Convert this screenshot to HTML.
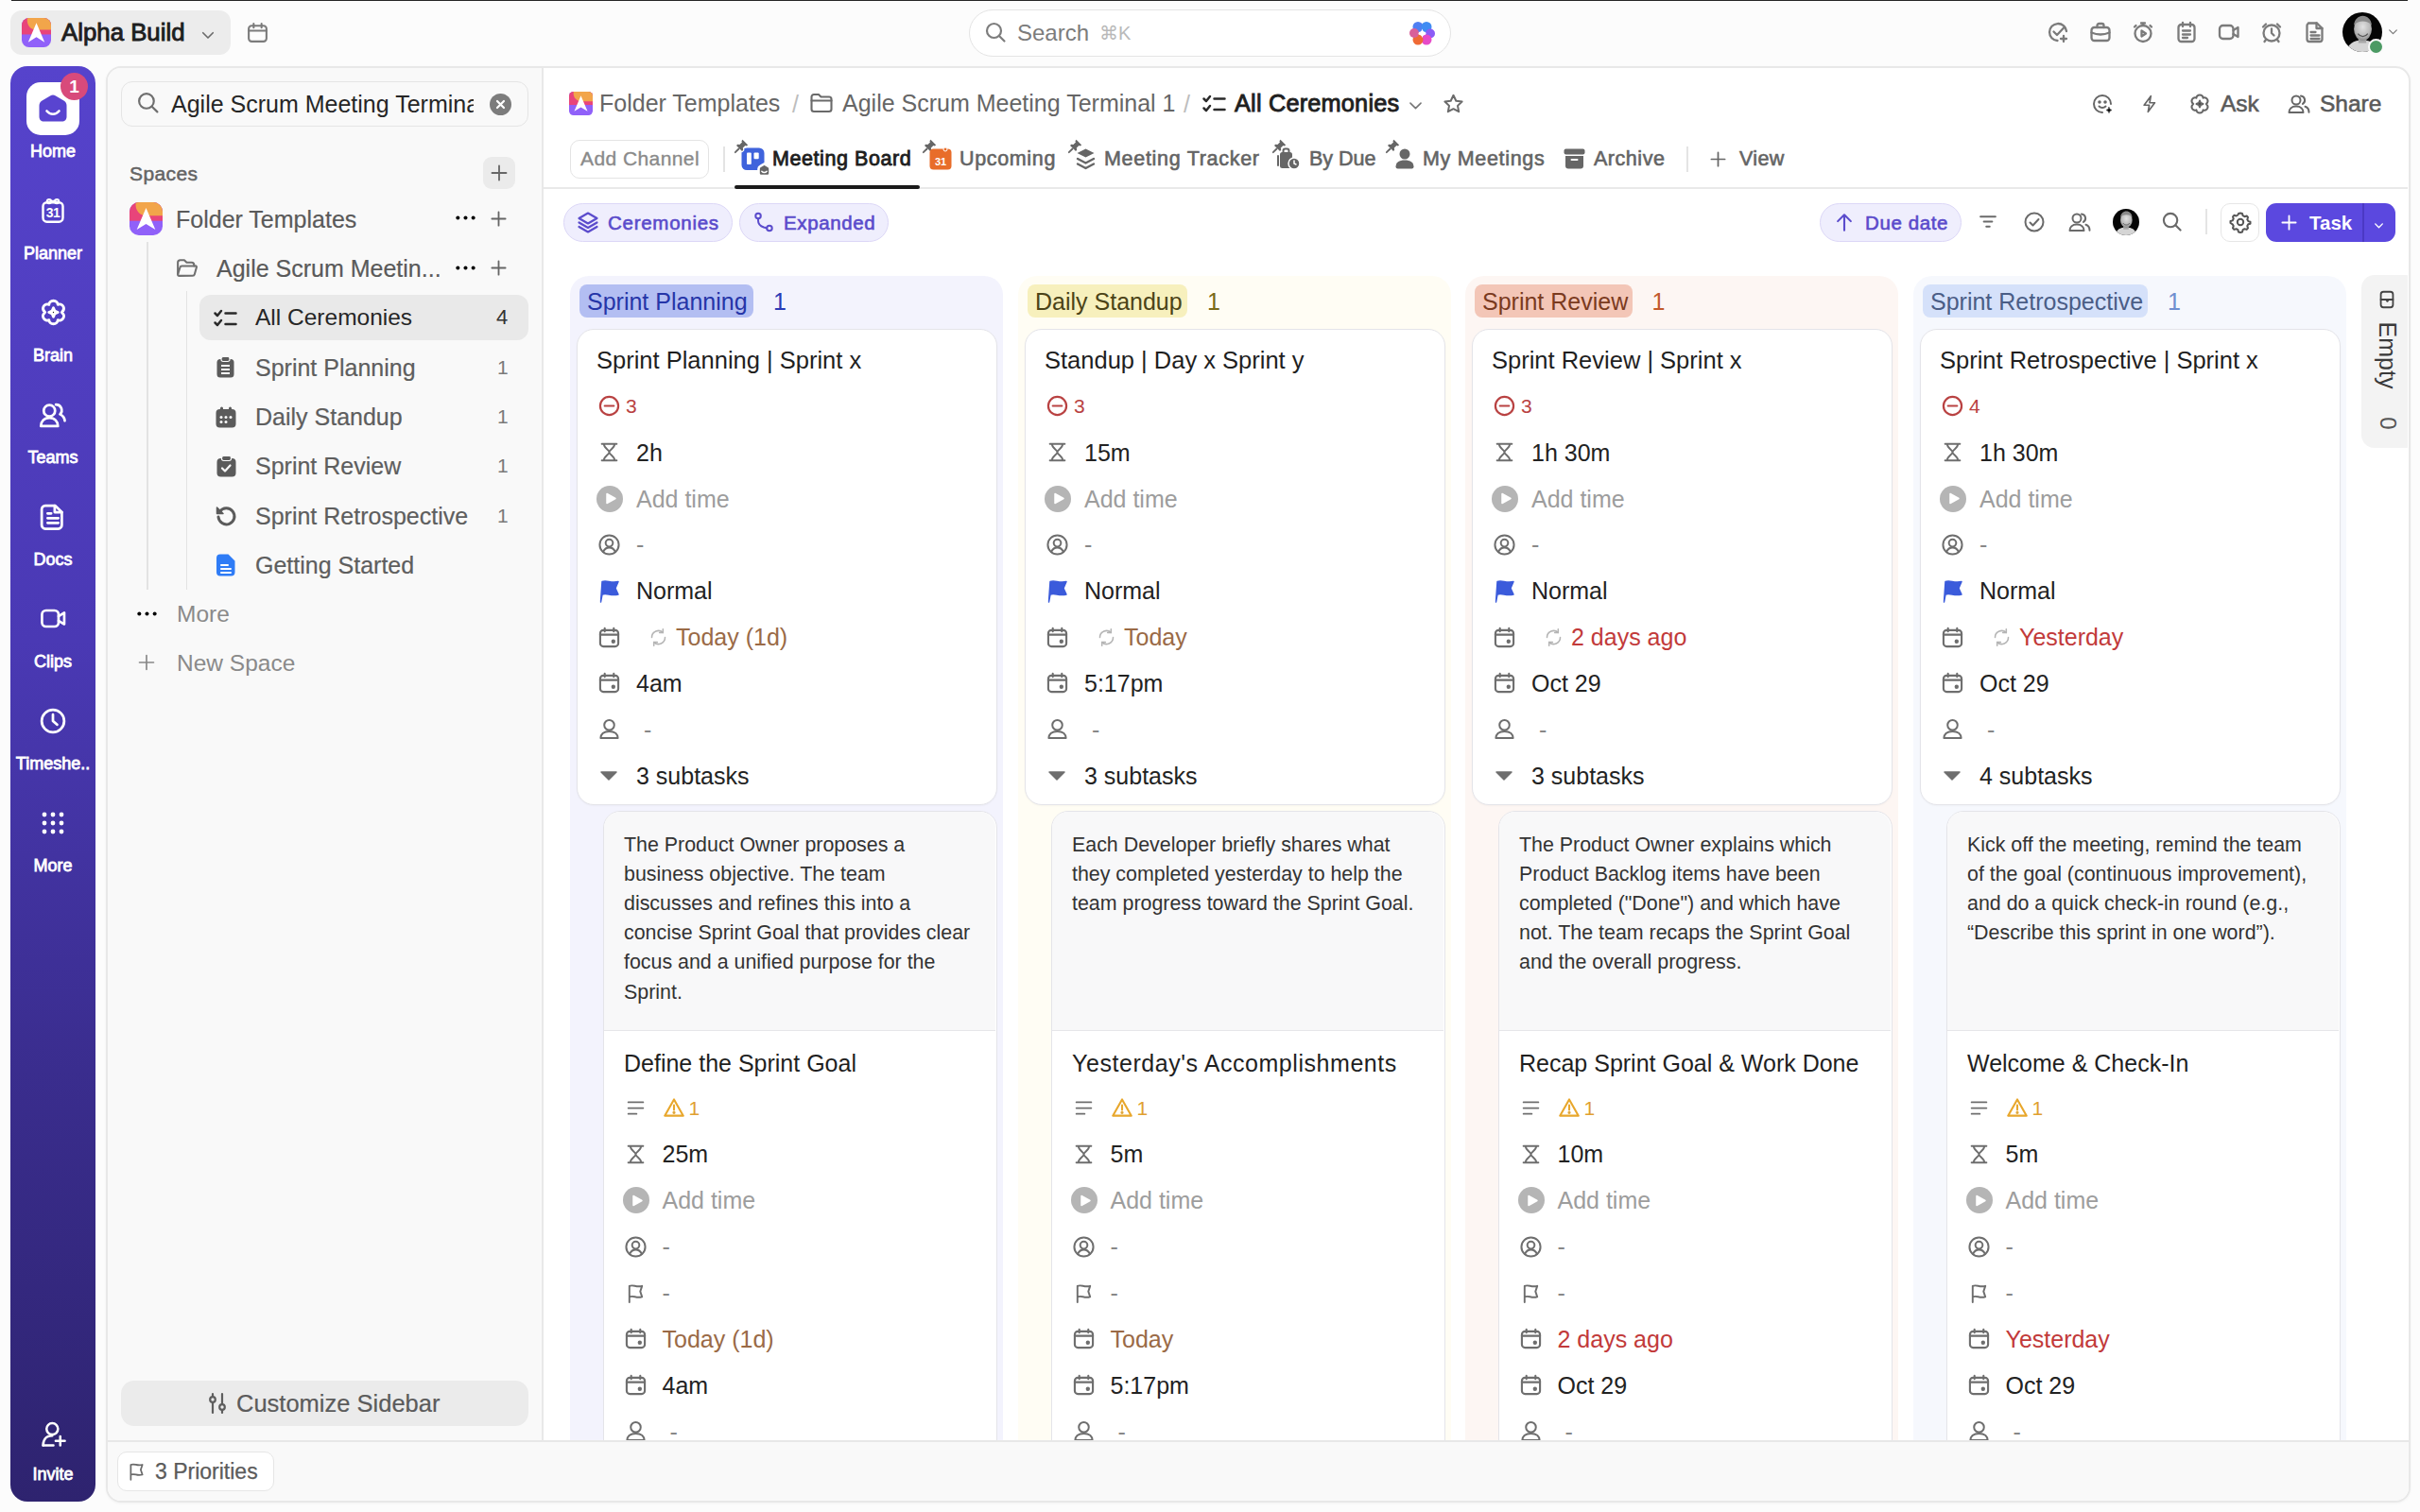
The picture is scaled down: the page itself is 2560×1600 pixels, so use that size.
<!DOCTYPE html><html><head><meta charset="utf-8"><style>
*{margin:0;padding:0;box-sizing:border-box}
html,body{width:2560px;height:1600px;overflow:hidden;background:#fcfcfc;font-family:"Liberation Sans",sans-serif}
.t{position:absolute;white-space:nowrap}
svg{overflow:visible}
.med{-webkit-text-stroke:0.35px currentColor}
</style></head><body><div style="position:absolute;left:12px;top:0;width:2535px;height:1px;background:#262626"></div><div style="position:absolute;left:11px;top:11px;width:233px;height:47px;background:#ececec;border-radius:12px"></div><svg style="position:absolute;left:23px;top:19px" width="31" height="31" viewBox="0 0 32 32"><defs><clipPath id="lc2319"><rect width="32" height="32" rx="8"/></clipPath></defs><g clip-path="url(#lc2319)"><rect width="32" height="32" fill="#9061f9"/><rect width="32" height="18" fill="#e8447a"/><path d="M6 0H32V13H16C10 13 6 8 6 3z" fill="#f2a54a"/><path d="M16 5.5L25 26.5 16 21 7 26.5z" fill="#fff"/></g></svg><div class="t" style="left:65px;top:8.70px;font-size:25.8px;line-height:51.6px;color:#1e1e1e;font-weight:400;-webkit-text-stroke:0.9px #1e1e1e">Alpha Build</div><svg style="position:absolute;left:211px;top:28px;" width="18" height="18" viewBox="0 0 24 24" fill="none" stroke="#6a6a6a" stroke-width="2.2" stroke-linecap="round" stroke-linejoin="round"><path d="M5 9l7 7 7-7"/></svg><svg style="position:absolute;left:260px;top:22px;" width="25" height="25" viewBox="0 0 24 24" fill="none" stroke="#7b7b7b" stroke-width="2" stroke-linecap="round" stroke-linejoin="round"><rect x="3" y="5" width="18" height="16" rx="3"/><path d="M3 10h18M8 3v4M16 3v4"/></svg><div style="position:absolute;left:1025px;top:9.5px;width:510px;height:50px;background:#fff;border:1.5px solid #e4e4e4;border-radius:25px"></div><svg style="position:absolute;left:1041px;top:22px;" width="24" height="24" viewBox="0 0 24 24" fill="none" stroke="#7d7d7d" stroke-width="2.2" stroke-linecap="round" stroke-linejoin="round"><circle cx="10.5" cy="10.5" r="7.5"/><path d="M16 16l5.5 5.5"/></svg><div class="t" style="left:1076px;top:10.50px;font-size:24px;line-height:48px;color:#7c7c7c;font-weight:400;">Search</div><div class="t" style="left:1163px;top:14.50px;font-size:20px;line-height:40px;color:#b9b9b9;font-weight:400;">⌘K</div><svg style="position:absolute;left:1491px;top:22px" width="27" height="26" viewBox="0 0 27 26"><defs><filter id="bl"><feGaussianBlur stdDeviation="0.6"/></filter></defs><g filter="url(#bl)"><circle cx="9" cy="6.5" r="5.5" fill="#4f7ff2"/><circle cx="18" cy="6.5" r="5.5" fill="#3f8cf3"/><circle cx="22" cy="13.5" r="5" fill="#8b5cf6"/><circle cx="18" cy="20" r="5.5" fill="#e64bc8"/><circle cx="9" cy="20" r="5.5" fill="#ef6a35"/><circle cx="5" cy="13" r="5" fill="#d8609a"/></g><path d="M13.5 8.5l1.3 3.4 3.4 1.3-3.4 1.3-1.3 3.4-1.3-3.4-3.4-1.3 3.4-1.3z" fill="#fff"/></svg><svg style="position:absolute;left:2165px;top:22px;" width="24" height="24" viewBox="0 0 24 24" fill="none" stroke="#7b7b7b" stroke-width="2.3" stroke-linecap="round" stroke-linejoin="round"><path d="M21 11a9 9 0 1 0-9.5 10"/><path d="M7.5 11.5l3.5 3.5 8-8.5M18 16v6M15 19h6"/></svg><svg style="position:absolute;left:2210px;top:22px;" width="24" height="24" viewBox="0 0 24 24" fill="none" stroke="#7b7b7b" stroke-width="2.3" stroke-linecap="round" stroke-linejoin="round"><rect x="2.5" y="7" width="19" height="14" rx="3"/><path d="M8.5 7V5a2 2 0 0 1 2-2h3a2 2 0 0 1 2 2v2M2.5 12.5c6 2.5 13 2.5 19 0"/></svg><svg style="position:absolute;left:2255px;top:22px;" width="24" height="24" viewBox="0 0 24 24" fill="none" stroke="#7b7b7b" stroke-width="2.3" stroke-linecap="round" stroke-linejoin="round"><circle cx="12" cy="13.5" r="8.5"/><path d="M10 2.5h4M12 2.5V5M4.5 5l-1.5 1.5M19.5 5L21 6.5"/><path d="M10.5 10.5v6l4.5-3z"/></svg><svg style="position:absolute;left:2301px;top:22px;" width="24" height="24" viewBox="0 0 24 24" fill="none" stroke="#7b7b7b" stroke-width="2.3" stroke-linecap="round" stroke-linejoin="round"><rect x="3.5" y="4" width="17" height="18" rx="3"/><path d="M8 2v4M16 2v4M8 10.5h8M8 14.5h8M8 18h5"/></svg><svg style="position:absolute;left:2346px;top:22px;" width="24" height="24" viewBox="0 0 24 24" fill="none" stroke="#7b7b7b" stroke-width="2.3" stroke-linecap="round" stroke-linejoin="round"><rect x="2" y="5" width="14.5" height="14" rx="3.5"/><path d="M16.5 10l5-3v10l-5-3"/></svg><svg style="position:absolute;left:2391px;top:22px;" width="24" height="24" viewBox="0 0 24 24" fill="none" stroke="#7b7b7b" stroke-width="2.3" stroke-linecap="round" stroke-linejoin="round"><circle cx="12" cy="13" r="8.5"/><path d="M12 8.5v4.5l2.5 2.5M3 6.5L6 3.5M21 6.5L18 3.5M6 20l-1.5 2M18 20l1.5 2"/></svg><svg style="position:absolute;left:2437px;top:22px;" width="24" height="24" viewBox="0 0 24 24" fill="none" stroke="#7b7b7b" stroke-width="2.3" stroke-linecap="round" stroke-linejoin="round"><path d="M5 2.5h9l5.5 5.5v11.5a2.5 2.5 0 0 1-2.5 2.5H6a2.5 2.5 0 0 1-2.5-2.5V5A2.5 2.5 0 0 1 6 2.5z"/><path d="M13.5 2.5V8h6M7.5 12h5M7.5 15.5h9M7.5 19h9"/></svg><svg style="position:absolute;left:2478px;top:13px" width="42" height="42" viewBox="0 0 40 40"><defs><clipPath id="av2499"><circle cx="20" cy="20" r="20"/></clipPath><radialGradient id="fg2499" cx=".5" cy=".4" r=".6"><stop offset="0" stop-color="#e2e2e2"/><stop offset=".7" stop-color="#b8b8b8"/><stop offset="1" stop-color="#8a8a8a"/></radialGradient></defs><g clip-path="url(#av2499)"><rect width="40" height="40" fill="#050505"/><path d="M4 40c1-8 7-12 16-12s15 4 16 12z" fill="#d5d5d5"/><rect x="16" y="24" width="8" height="7" fill="#a8a8a8"/><ellipse cx="20.5" cy="17" rx="9" ry="11.5" fill="url(#fg2499)"/><path d="M11.5 13c.5-6 4.5-9.5 9-9.5s8.5 3.5 9 9.5c-2.5-3-5.5-4-9-4s-6.5 1-9 4z" fill="#8a8a8a"/><path d="M15.5 21.5c1.5 2 3 2.8 5 2.8s3.5-.8 5-2.8" stroke="#555" stroke-width="1.2" fill="none"/></g></svg><div style="position:absolute;left:2505px;top:41px;width:17px;height:17px;border-radius:50%;background:#4c9a64;border:2.5px solid #fafafa"></div><svg style="position:absolute;left:2525px;top:27px;" width="13" height="13" viewBox="0 0 24 24" fill="none" stroke="#777" stroke-width="2.2" stroke-linecap="round" stroke-linejoin="round"><path d="M5 9l7 7 7-7"/></svg><div style="position:absolute;left:10.5px;top:70px;width:90.5px;height:1519px;background:linear-gradient(180deg,#5643cc 0%,#4a39b4 40%,#3a2d8e 70%,#2e236f 100%);border-radius:18px"></div><div style="position:absolute;left:28px;top:87px;width:56px;height:56px;background:#fff;border-radius:15px"></div><svg style="position:absolute;left:41px;top:100px" width="30" height="29" viewBox="0 0 30 29"><path d="M15 0.5C16 0.5 17 1 18 1.6L26.5 6.5C28.5 7.6 29.5 9.5 29.5 11.8V23.5C29.5 26.5 27.5 28.5 24.5 28.5H5.5C2.5 28.5 0.5 26.5 0.5 23.5V11.8C0.5 9.5 1.5 7.6 3.5 6.5L12 1.6C13 1 14 0.5 15 0.5z" fill="#5944d0"/><path d="M8.5 17.5c1.8 2.2 4 3.2 6.5 3.2s4.7-1 6.5-3.2" stroke="#fff" stroke-width="2.6" fill="none" stroke-linecap="round"/></svg><div style="position:absolute;left:64px;top:77px;width:29px;height:29px;border-radius:50%;background:#d84a7b;color:#fff;font:700 19px/29px 'Liberation Sans',sans-serif;text-align:center">1</div><div class="t" style="left:0px;top:142.00px;font-size:18px;line-height:36px;color:#fff;font-weight:400;width:112px;text-align:center;left:0px;-webkit-text-stroke:0.8px #fff">Home</div><div class="t" style="left:0px;top:250.00px;font-size:18px;line-height:36px;color:#fff;font-weight:400;width:112px;text-align:center;left:0px;-webkit-text-stroke:0.8px #fff">Planner</div><svg style="position:absolute;left:42px;top:208.5px;" width="28" height="28" viewBox="0 0 24 24" fill="none" stroke="#fff" stroke-width="2.1" stroke-linecap="round" stroke-linejoin="round"><rect x="3" y="4.5" width="18" height="17.5" rx="3.5"/><circle cx="8.5" cy="3.5" r="1.7"/><circle cx="15.5" cy="3.5" r="1.7"/><path d="M10.2 3.5h3.6"/></svg><div class="t" style="left:0px;top:211.00px;font-size:14px;line-height:28px;color:#fff;font-weight:700;width:112px;text-align:center;letter-spacing:-0.5px">31</div><div class="t" style="left:0px;top:358.00px;font-size:18px;line-height:36px;color:#fff;font-weight:400;width:112px;text-align:center;left:0px;-webkit-text-stroke:0.8px #fff">Brain</div><svg style="position:absolute;left:40.5px;top:315.0px;" width="31" height="31" viewBox="0 0 24 24" fill="none" stroke="#fff" stroke-width="2.2" stroke-linecap="round" stroke-linejoin="round"><path d="M12 2.5c2.2 0 3.6 1.8 3.6 3.2 1.4-.7 3.7-.3 4.6 1.7.9 2-.3 3.7-1.4 4.6 1.1.9 2.3 2.6 1.4 4.6-.9 2-3.2 2.4-4.6 1.7 0 1.4-1.4 3.2-3.6 3.2s-3.6-1.8-3.6-3.2c-1.4.7-3.7.3-4.6-1.7-.9-2 .3-3.7 1.4-4.6C4.1 11.1 2.9 9.4 3.8 7.4c.9-2 3.2-2.4 4.6-1.7 0-1.4 1.4-3.2 3.6-3.2z"/><path d="M12 8.3l1.1 2.6 2.6 1.1-2.6 1.1-1.1 2.6-1.1-2.6-2.6-1.1 2.6-1.1z" fill="currentColor"/></svg><div class="t" style="left:0px;top:466.00px;font-size:18px;line-height:36px;color:#fff;font-weight:400;width:112px;text-align:center;left:0px;-webkit-text-stroke:0.8px #fff">Teams</div><svg style="position:absolute;left:41.0px;top:423.5px;" width="30" height="30" viewBox="0 0 24 24" fill="none" stroke="#fff" stroke-width="2.2" stroke-linecap="round" stroke-linejoin="round"><circle cx="9" cy="8.5" r="4.8"/><path d="M1.8 21.5c0-4 2.8-7 7.2-7s7.2 3 7.2 7z"/><path d="M14.5 3.3a4.8 4.8 0 0 1 3.5 8.2c1 .5 3.8 2 4 5.5"/></svg><div class="t" style="left:0px;top:574.00px;font-size:18px;line-height:36px;color:#fff;font-weight:400;width:112px;text-align:center;left:0px;-webkit-text-stroke:0.8px #fff">Docs</div><svg style="position:absolute;left:41.0px;top:531.5px;" width="30" height="30" viewBox="0 0 24 24" fill="none" stroke="#fff" stroke-width="2.2" stroke-linecap="round" stroke-linejoin="round"><path d="M5.5 2.5h8.5l5.5 5.5v11a3 3 0 0 1-3 3h-11a3 3 0 0 1-3-3V5.5a3 3 0 0 1 3-3z"/><path d="M13.5 2.5v5.5h6M7.5 13h9M7.5 17h9M7.5 9h3"/></svg><div class="t" style="left:0px;top:682.00px;font-size:18px;line-height:36px;color:#fff;font-weight:400;width:112px;text-align:center;left:0px;-webkit-text-stroke:0.8px #fff">Clips</div><svg style="position:absolute;left:41.5px;top:640.0px;" width="29" height="29" viewBox="0 0 24 24" fill="none" stroke="#fff" stroke-width="2.2" stroke-linecap="round" stroke-linejoin="round"><rect x="2" y="5" width="14.5" height="14" rx="3.5"/><path d="M16.5 10l5-3v10l-5-3"/></svg><div class="t" style="left:0px;top:790.00px;font-size:18px;line-height:36px;color:#fff;font-weight:400;width:112px;text-align:center;left:0px;-webkit-text-stroke:0.8px #fff">Timeshe..</div><svg style="position:absolute;left:41.0px;top:747.5px;" width="30" height="30" viewBox="0 0 24 24" fill="none" stroke="#fff" stroke-width="2.2" stroke-linecap="round" stroke-linejoin="round"><circle cx="12" cy="12" r="9.5"/><path d="M12 6.5V12l3.5 3"/></svg><div class="t" style="left:0px;top:898.00px;font-size:18px;line-height:36px;color:#fff;font-weight:400;width:112px;text-align:center;left:0px;-webkit-text-stroke:0.8px #fff">More</div><svg style="position:absolute;left:44px;top:858.5px" width="24" height="24" viewBox="0 0 24 24"><circle cx="3" cy="3" r="2.4" fill="#fff"/><circle cx="3" cy="12" r="2.4" fill="#fff"/><circle cx="3" cy="21" r="2.4" fill="#fff"/><circle cx="12" cy="3" r="2.4" fill="#fff"/><circle cx="12" cy="12" r="2.4" fill="#fff"/><circle cx="12" cy="21" r="2.4" fill="#fff"/><circle cx="21" cy="3" r="2.4" fill="#fff"/><circle cx="21" cy="12" r="2.4" fill="#fff"/><circle cx="21" cy="21" r="2.4" fill="#fff"/></svg><svg style="position:absolute;left:42px;top:1503px;" width="29" height="29" viewBox="0 0 24 24" fill="none" stroke="#fff" stroke-width="2.1" stroke-linecap="round" stroke-linejoin="round"><circle cx="11" cy="7.5" r="5"/><path d="M3 22c0-4 1.5-8.5 8-8.5"/><path d="M3 22h9M18 14v8M14 18h8"/></svg><div class="t" style="left:0px;top:1542.00px;font-size:18px;line-height:36px;color:#fff;font-weight:400;width:112px;text-align:center;-webkit-text-stroke:0.8px #fff">Invite</div><div style="position:absolute;left:111.5px;top:69.5px;width:2438.5px;height:1520px;background:#fff;border:2px solid #e8e8e8;border-radius:16px;overflow:hidden;box-shadow:0 1px 3px rgba(0,0,0,0.04)"></div><div style="position:absolute;left:113.5px;top:71.5px;width:461.5px;height:1453px;background:#f9f9f9;border-top-left-radius:14px;border-right:2px solid #e8e8e8"></div><div style="position:absolute;left:113.5px;top:1523.5px;width:2434px;height:64px;background:#f9f9f9;border-top:2px solid #e8e8e8;border-bottom-left-radius:14px;border-bottom-right-radius:14px"></div><div style="position:absolute;left:128px;top:86px;width:431px;height:48px;background:#f9f9f9;border:1.5px solid #e5e5e5;border-radius:12px"></div><svg style="position:absolute;left:144px;top:96px;" width="25" height="25" viewBox="0 0 24 24" fill="none" stroke="#6f6f6f" stroke-width="2.1" stroke-linecap="round" stroke-linejoin="round"><circle cx="10.5" cy="10.5" r="7.5"/><path d="M16 16l5.5 5.5"/></svg><div class="t" style="left:181px;top:85px;width:320px;overflow:hidden;font-size:25px;line-height:50px;color:#262626">Agile Scrum Meeting Terminal 1</div><div style="position:absolute;left:518px;top:99px;width:23px;height:23px;border-radius:50%;background:#7c7c7c"></div><svg style="position:absolute;left:523px;top:104px;" width="13" height="13" viewBox="0 0 13 13" fill="none" stroke="#fff" stroke-width="2.2" stroke-linecap="round" stroke-linejoin="round"><path d="M3 3l7 7M10 3l-7 7"/></svg><div class="t" style="left:137px;top:162.50px;font-size:21px;line-height:42px;color:#646464;font-weight:400;letter-spacing:0.4px;-webkit-text-stroke:0.5px #646464">Spaces</div><div style="position:absolute;left:511px;top:166px;width:34px;height:34px;background:#ebebeb;border-radius:9px"></div><svg style="position:absolute;left:518px;top:173px;" width="20" height="20" viewBox="0 0 24 24" fill="none" stroke="#666" stroke-width="2.2" stroke-linecap="round" stroke-linejoin="round"><path d="M12 3v18M3 12h18"/></svg><svg style="position:absolute;left:137px;top:214px" width="35" height="35" viewBox="0 0 32 32"><defs><clipPath id="lc137214"><rect width="32" height="32" rx="9"/></clipPath></defs><g clip-path="url(#lc137214)"><rect width="32" height="32" fill="#9061f9"/><rect width="32" height="18" fill="#e8447a"/><path d="M6 0H32V13H16C10 13 6 8 6 3z" fill="#f2a54a"/><path d="M16 5.5L25 26.5 16 21 7 26.5z" fill="#fff"/></g></svg><div class="t" style="left:186px;top:206.50px;font-size:25px;line-height:50px;color:#5a5a5a;font-weight:400;-webkit-text-stroke:0.2px #5a5a5a">Folder Templates</div><svg style="position:absolute;left:481px;top:219px;" width="23" height="23" viewBox="0 0 24 24" fill="none" stroke="#555" stroke-width="0" stroke-linecap="round" stroke-linejoin="round"><circle cx="3.5" cy="12" r="2.1" fill="currentColor" stroke="none"/><circle cx="12" cy="12" r="2.1" fill="currentColor" stroke="none"/><circle cx="20.5" cy="12" r="2.1" fill="currentColor" stroke="none"/></svg><svg style="position:absolute;left:518px;top:222px;" width="19" height="19" viewBox="0 0 24 24" fill="none" stroke="#666" stroke-width="2.3" stroke-linecap="round" stroke-linejoin="round"><path d="M12 3v18M3 12h18"/></svg><div style="position:absolute;left:155px;top:256px;width:1.5px;height:368px;background:#e3e3e3"></div><svg style="position:absolute;left:185px;top:271px;" width="25" height="25" viewBox="0 0 24 24" fill="none" stroke="#707070" stroke-width="2" stroke-linecap="round" stroke-linejoin="round"><path d="M3 18V6.5A2.5 2.5 0 0 1 5.5 4h4l2.5 2.5h5A2.5 2.5 0 0 1 19.5 9v1"/><path d="M3 18.5l2.2-7A2 2 0 0 1 7.1 10H21a1 1 0 0 1 1 1.3l-2 7.2a2 2 0 0 1-1.9 1.5H4.5A1.5 1.5 0 0 1 3 18.5z"/></svg><div class="t" style="left:229px;top:258.50px;font-size:25px;line-height:50px;color:#5a5a5a;font-weight:400;-webkit-text-stroke:0.2px #5a5a5a">Agile Scrum Meetin...</div><svg style="position:absolute;left:481px;top:272px;" width="23" height="23" viewBox="0 0 24 24" fill="none" stroke="#555" stroke-width="0" stroke-linecap="round" stroke-linejoin="round"><circle cx="3.5" cy="12" r="2.1" fill="currentColor" stroke="none"/><circle cx="12" cy="12" r="2.1" fill="currentColor" stroke="none"/><circle cx="20.5" cy="12" r="2.1" fill="currentColor" stroke="none"/></svg><svg style="position:absolute;left:518px;top:274px;" width="19" height="19" viewBox="0 0 24 24" fill="none" stroke="#666" stroke-width="2.3" stroke-linecap="round" stroke-linejoin="round"><path d="M12 3v18M3 12h18"/></svg><div style="position:absolute;left:196.5px;top:308px;width:1.5px;height:316px;background:#e3e3e3"></div><div style="position:absolute;left:211px;top:312px;width:348px;height:48px;background:#e9e9e9;border-radius:12px"></div><svg style="position:absolute;left:226px;top:327px;" width="25" height="19" viewBox="0 0 25 19" fill="none" stroke="#2a2a2a" stroke-width="2.5" stroke-linecap="round" stroke-linejoin="round"><path d="M1.5 4.5l2.5 2.5 4-5M1.5 14.5l2.5 2.5 4-5M12.5 4.5h11M12.5 16h11"/></svg><div class="t" style="left:270px;top:311.20px;font-size:24.5px;line-height:49.0px;color:#262626;font-weight:400;">All Ceremonies</div><div class="t" style="left:525px;top:313.70px;font-size:22px;line-height:44px;color:#333;font-weight:400;">4</div><div class="t" style="left:270px;top:363.50px;font-size:25px;line-height:50px;color:#5e5e5e;font-weight:400;-webkit-text-stroke:0.2px #5e5e5e">Sprint Planning</div><div class="t" style="left:526px;top:367.50px;font-size:21px;line-height:42px;color:#7a7a7a;font-weight:400;">1</div><svg style="position:absolute;left:229px;top:377.0px" width="19" height="23" viewBox="0 0 19 23"><rect x="0.5" y="3" width="18" height="19.5" rx="3.5" fill="#5b5b5b"/><rect x="5" y="0.5" width="9" height="5" rx="2" fill="#5b5b5b" stroke="#f9f9f9" stroke-width="1.2"/><path d="M5 10h9M5 14h9M5 18h9" stroke="#f9f9f9" stroke-width="1.8"/></svg><div class="t" style="left:270px;top:416.00px;font-size:25px;line-height:50px;color:#5e5e5e;font-weight:400;-webkit-text-stroke:0.2px #5e5e5e">Daily Standup</div><div class="t" style="left:526px;top:420.00px;font-size:21px;line-height:42px;color:#7a7a7a;font-weight:400;">1</div><svg style="position:absolute;left:228px;top:429.5px" width="22" height="23" viewBox="0 0 22 23"><rect x="0.5" y="3" width="21" height="19.5" rx="4" fill="#5b5b5b"/><rect x="5" y="0.5" width="3" height="5" rx="1.5" fill="#5b5b5b"/><rect x="14" y="0.5" width="3" height="5" rx="1.5" fill="#5b5b5b"/><g fill="#f9f9f9"><circle cx="6" cy="11.5" r="1.5"/><circle cx="11" cy="11.5" r="1.5"/><circle cx="16" cy="11.5" r="1.5"/><circle cx="6" cy="16.5" r="1.5"/><circle cx="11" cy="16.5" r="1.5"/></g></svg><div class="t" style="left:270px;top:468.30px;font-size:25px;line-height:50px;color:#5e5e5e;font-weight:400;-webkit-text-stroke:0.2px #5e5e5e">Sprint Review</div><div class="t" style="left:526px;top:472.30px;font-size:21px;line-height:42px;color:#7a7a7a;font-weight:400;">1</div><svg style="position:absolute;left:228.5px;top:481.8px" width="21" height="23" viewBox="0 0 21 23"><rect x="0.5" y="3" width="20" height="19.5" rx="4" fill="#5b5b5b"/><rect x="5.5" y="0.5" width="10" height="5" rx="2" fill="#5b5b5b" stroke="#f9f9f9" stroke-width="1.2"/><path d="M6 13.5l3 3 5.5-6" stroke="#f9f9f9" stroke-width="2.2" fill="none" stroke-linecap="round" stroke-linejoin="round"/></svg><div class="t" style="left:270px;top:520.70px;font-size:25px;line-height:50px;color:#5e5e5e;font-weight:400;-webkit-text-stroke:0.2px #5e5e5e">Sprint Retrospective</div><div class="t" style="left:526px;top:524.70px;font-size:21px;line-height:42px;color:#7a7a7a;font-weight:400;">1</div><svg style="position:absolute;left:228px;top:534.7px" width="22" height="22" viewBox="0 0 22 22"><path d="M4.5 6.5A8.5 8.5 0 1 1 3 12" stroke="#5b5b5b" stroke-width="3" fill="none" stroke-linecap="round"/><path d="M1.5 2v6.5h6.5z" fill="#5b5b5b" stroke="#5b5b5b" stroke-width="1.5" stroke-linejoin="round"/></svg><div class="t" style="left:270px;top:572.60px;font-size:25px;line-height:50px;color:#5e5e5e;font-weight:400;-webkit-text-stroke:0.2px #5e5e5e">Getting Started</div><svg style="position:absolute;left:229px;top:585.6px" width="20" height="24" viewBox="0 0 20 24"><path d="M4 0.5h8.5L19.5 7.5V19.5a4 4 0 0 1-4 4H4a4 4 0 0 1-4-4V4.5a4 4 0 0 1 4-4z" fill="#2f7cf6"/><path d="M5 12h7M5 16h10M5 20h10" stroke="#fff" stroke-width="2" stroke-linecap="round"/></svg><svg style="position:absolute;left:144px;top:638px;" width="23" height="23" viewBox="0 0 24 24" fill="none" stroke="#777" stroke-width="0" stroke-linecap="round" stroke-linejoin="round"><circle cx="3.5" cy="12" r="2.1" fill="currentColor" stroke="none"/><circle cx="12" cy="12" r="2.1" fill="currentColor" stroke="none"/><circle cx="20.5" cy="12" r="2.1" fill="currentColor" stroke="none"/></svg><div class="t" style="left:187px;top:625.00px;font-size:24.5px;line-height:49.0px;color:#8a8a8a;font-weight:400;">More</div><svg style="position:absolute;left:145px;top:691px;" width="20" height="20" viewBox="0 0 24 24" fill="none" stroke="#888" stroke-width="2" stroke-linecap="round" stroke-linejoin="round"><path d="M12 3v18M3 12h18"/></svg><div class="t" style="left:187px;top:677.20px;font-size:24.5px;line-height:49.0px;color:#8a8a8a;font-weight:400;">New Space</div><div style="position:absolute;left:128px;top:1461px;width:431px;height:48px;background:#ebebeb;border-radius:14px"></div><svg style="position:absolute;left:219px;top:1473px;" width="22" height="24" viewBox="0 0 22 24" fill="none" stroke="#5e5e5e" stroke-width="2.2" stroke-linecap="round" stroke-linejoin="round"><path d="M6 2v20M16 2v20"/><circle cx="6" cy="8" r="2.8" fill="#ebebeb"/><circle cx="16" cy="16" r="2.8" fill="#ebebeb"/></svg><div class="t" style="left:250px;top:1459.50px;font-size:25.5px;line-height:51.0px;color:#5b5b5b;font-weight:400;-webkit-text-stroke:0.2px #5b5b5b">Customize Sidebar</div><div style="position:absolute;left:124px;top:1536px;width:166px;height:42px;background:#fff;border:1.5px solid #e6e6e6;border-radius:10px"></div><svg style="position:absolute;left:134px;top:1545px;" width="21" height="24" viewBox="0 0 24 24" fill="none" stroke="#6a6a6a" stroke-width="2" stroke-linecap="round" stroke-linejoin="round"><path d="M5 22V4c5-2 7 2 14 0l-2 6 2 6c-7 2-9-2-14 0"/></svg><div class="t" style="left:164px;top:1534.00px;font-size:23px;line-height:46px;color:#5b5b5b;font-weight:400;-webkit-text-stroke:0.25px #5b5b5b">3 Priorities</div><svg style="position:absolute;left:602px;top:97px" width="25" height="25" viewBox="0 0 32 32"><defs><clipPath id="lc60297"><rect width="32" height="32" rx="6"/></clipPath></defs><g clip-path="url(#lc60297)"><rect width="32" height="32" fill="#9061f9"/><rect width="32" height="18" fill="#e8447a"/><path d="M6 0H32V13H16C10 13 6 8 6 3z" fill="#f2a54a"/><path d="M16 5.5L25 26.5 16 21 7 26.5z" fill="#fff"/></g></svg><div class="t" style="left:634px;top:84.30px;font-size:25px;line-height:50px;color:#666;font-weight:400;">Folder Templates</div><div class="t" style="left:838px;top:85.00px;font-size:25px;line-height:50px;color:#bdbdbd;font-weight:400;">/</div><svg style="position:absolute;left:857px;top:98px;" width="24" height="22" viewBox="0 0 24 22" fill="none" stroke="#6a6a6a" stroke-width="2.1" stroke-linecap="round" stroke-linejoin="round"><path d="M1.5 4.5A2.5 2.5 0 0 1 4 2h5l2.5 2.5H20A2.5 2.5 0 0 1 22.5 7v10.5A2.5 2.5 0 0 1 20 20H4a2.5 2.5 0 0 1-2.5-2.5z"/><path d="M1.5 8.5h21"/></svg><div class="t" style="left:891px;top:84.30px;font-size:25px;line-height:50px;color:#666;font-weight:400;">Agile Scrum Meeting Terminal 1</div><div class="t" style="left:1252px;top:85.00px;font-size:25px;line-height:50px;color:#bdbdbd;font-weight:400;">/</div><svg style="position:absolute;left:1272px;top:100px;" width="25" height="19" viewBox="0 0 25 19" fill="none" stroke="#2a2a2a" stroke-width="2.5" stroke-linecap="round" stroke-linejoin="round"><path d="M1.5 4.5l2.5 2.5 4-5M1.5 14.5l2.5 2.5 4-5M12.5 4.5h11M12.5 16h11"/></svg><div class="t" style="left:1306px;top:84.20px;font-size:25.3px;line-height:50.6px;color:#1f1f1f;font-weight:400;letter-spacing:0.2px;-webkit-text-stroke:0.9px #1f1f1f">All Ceremonies</div><svg style="position:absolute;left:1488px;top:102px;" width="19" height="19" viewBox="0 0 24 24" fill="none" stroke="#777" stroke-width="2" stroke-linecap="round" stroke-linejoin="round"><path d="M5 9l7 7 7-7"/></svg><svg style="position:absolute;left:1525px;top:97.5px;" width="25" height="24" viewBox="0 0 24 24" fill="none" stroke="#6a6a6a" stroke-width="2" stroke-linecap="round" stroke-linejoin="round"><path d="M12 2.8l2.8 5.9 6.3.8-4.6 4.4 1.2 6.3L12 17.2l-5.7 3 1.2-6.3L2.9 9.5l6.3-.8z"/></svg><svg style="position:absolute;left:2212px;top:98px;" width="24" height="24" viewBox="0 0 24 24" fill="none" stroke="#666" stroke-width="2" stroke-linecap="round" stroke-linejoin="round"><path d="M21 12a9 9 0 1 0-9 9"/><circle cx="9" cy="10" r=".8" fill="currentColor"/><circle cx="15" cy="10" r=".8" fill="currentColor"/><path d="M8.5 14.5c1 1 2.2 1.5 3.5 1.5s2.5-.5 3.5-1.5"/><path d="M19 15.5l1 2 2 1-2 1-1 2-1-2-2-1 2-1z" fill="currentColor" stroke-width="1"/></svg><svg style="position:absolute;left:2264px;top:98px;" width="20" height="24" viewBox="0 0 24 24" fill="none" stroke="#666" stroke-width="2" stroke-linecap="round" stroke-linejoin="round"><path d="M13.5 2L5 13.5h6.5L10 22l8.5-11.5H12z"/></svg><svg style="position:absolute;left:2315px;top:98px;" width="24" height="24" viewBox="0 0 24 24" fill="none" stroke="#666" stroke-width="2" stroke-linecap="round" stroke-linejoin="round"><path d="M12 2.5c2.2 0 3.6 1.8 3.6 3.2 1.4-.7 3.7-.3 4.6 1.7.9 2-.3 3.7-1.4 4.6 1.1.9 2.3 2.6 1.4 4.6-.9 2-3.2 2.4-4.6 1.7 0 1.4-1.4 3.2-3.6 3.2s-3.6-1.8-3.6-3.2c-1.4.7-3.7.3-4.6-1.7-.9-2 .3-3.7 1.4-4.6C4.1 11.1 2.9 9.4 3.8 7.4c.9-2 3.2-2.4 4.6-1.7 0-1.4 1.4-3.2 3.6-3.2z"/><path d="M12 8.5l1 2.5 2.5 1-2.5 1-1 2.5-1-2.5-2.5-1 2.5-1z" fill="currentColor"/></svg><div class="t" style="left:2349px;top:85.00px;font-size:24.5px;line-height:49.0px;color:#5a5a5a;font-weight:400;-webkit-text-stroke:0.55px #5a5a5a">Ask</div><svg style="position:absolute;left:2420px;top:98px;" width="24" height="24" viewBox="0 0 24 24" fill="none" stroke="#666" stroke-width="2" stroke-linecap="round" stroke-linejoin="round"><circle cx="9" cy="8" r="4.5"/><path d="M1.5 21c0-3.5 2.5-6.5 7.5-6.5s7.5 3 7.5 6.5z"/><path d="M14 3.6a4.5 4.5 0 0 1 2 8.3M18.5 14.8c2.5.8 4 3 4 6"/></svg><div class="t" style="left:2454px;top:85.00px;font-size:24.5px;line-height:49.0px;color:#5a5a5a;font-weight:400;-webkit-text-stroke:0.55px #5a5a5a">Share</div><div style="position:absolute;left:575px;top:197.5px;width:1972px;height:2px;background:#e9e9e9"></div><div style="position:absolute;left:603px;top:147.5px;width:147px;height:41px;background:#fff;border:1.5px solid #e4e4e4;border-radius:10px"></div><div class="t" style="left:614px;top:147.00px;font-size:21px;line-height:42px;color:#8a8a8a;font-weight:400;letter-spacing:0.42px;-webkit-text-stroke:0.35px #8a8a8a">Add Channel</div><div style="position:absolute;left:765px;top:155px;width:1.5px;height:27px;background:#e4e4e4"></div><svg style="position:absolute;left:784px;top:156px" width="34" height="32" viewBox="0 0 34 32"><rect x="0.5" y="0.5" width="24" height="23.5" rx="5.5" fill="#3f63dc"/><rect x="6" y="5.5" width="4.8" height="12.5" rx="1" fill="#fff"/><rect x="13.5" y="5.5" width="5.2" height="6.8" rx="1" fill="#fff"/><path d="M18.5 22.5c0-1.2.8-2 2.2-2.8l3.8-2.3 3.8 2.3c1.4.8 2.2 1.6 2.2 2.8v5c0 1.6-1 2.6-2.6 2.6h-6.8c-1.6 0-2.6-1-2.6-2.6z" fill="#666" stroke="#fff" stroke-width="2.6"/><path d="M21.8 25.2c.8.9 1.7 1.3 2.7 1.3s1.9-.4 2.7-1.3" stroke="#fff" stroke-width="1.4" fill="none" stroke-linecap="round"/></svg><svg style="position:absolute;left:777px;top:147px" width="15" height="15" viewBox="0 0 15 15"><g stroke="#fff" stroke-width="2.4" stroke-linejoin="round"><path d="M8.5 0.8l5.7 5.7-1.6 1-1.2-.6-2.6 2.6.4 2.2-1.2 1.2-6-6L3.2 5.7l2.2.4L8 3.5l-.6-1.2z" fill="#666"/></g><path d="M8.5 0.8l5.7 5.7-1.6 1-1.2-.6-2.6 2.6.4 2.2-1.2 1.2-6-6L3.2 5.7l2.2.4L8 3.5l-.6-1.2z" fill="#666"/><path d="M4.5 10.5L0.8 14.2" stroke="#666" stroke-width="1.8" stroke-linecap="round"/></svg><div class="t" style="left:817px;top:146.50px;font-size:21.5px;line-height:43.0px;color:#1e1e1e;font-weight:400;letter-spacing:0.58px;-webkit-text-stroke:0.85px #1e1e1e">Meeting Board</div><div style="position:absolute;left:777px;top:196px;width:196px;height:3.5px;background:#1a1a1a;border-radius:2px"></div><svg style="position:absolute;left:976px;top:147px" width="15" height="15" viewBox="0 0 15 15"><g stroke="#fff" stroke-width="2.4" stroke-linejoin="round"><path d="M8.5 0.8l5.7 5.7-1.6 1-1.2-.6-2.6 2.6.4 2.2-1.2 1.2-6-6L3.2 5.7l2.2.4L8 3.5l-.6-1.2z" fill="#666"/></g><path d="M8.5 0.8l5.7 5.7-1.6 1-1.2-.6-2.6 2.6.4 2.2-1.2 1.2-6-6L3.2 5.7l2.2.4L8 3.5l-.6-1.2z" fill="#666"/><path d="M4.5 10.5L0.8 14.2" stroke="#666" stroke-width="1.8" stroke-linecap="round"/></svg><svg style="position:absolute;left:983px;top:155px" width="24" height="25" viewBox="0 0 24 25"><rect x="0.5" y="2.5" width="23" height="22" rx="4" fill="#e86d2a"/><circle cx="17" cy="3" r="2" fill="#e86d2a" stroke="#fff" stroke-width="1"/><text x="12" y="19.5" font-family="Liberation Sans" font-weight="700" font-size="11" fill="#fff" text-anchor="middle">31</text></svg><div class="t" style="left:1015px;top:146.50px;font-size:21.5px;line-height:43.0px;color:#646464;font-weight:400;letter-spacing:0.65px;-webkit-text-stroke:0.6px #646464">Upcoming</div><svg style="position:absolute;left:1130px;top:147px" width="15" height="15" viewBox="0 0 15 15"><g stroke="#fff" stroke-width="2.4" stroke-linejoin="round"><path d="M8.5 0.8l5.7 5.7-1.6 1-1.2-.6-2.6 2.6.4 2.2-1.2 1.2-6-6L3.2 5.7l2.2.4L8 3.5l-.6-1.2z" fill="#666"/></g><path d="M8.5 0.8l5.7 5.7-1.6 1-1.2-.6-2.6 2.6.4 2.2-1.2 1.2-6-6L3.2 5.7l2.2.4L8 3.5l-.6-1.2z" fill="#666"/><path d="M4.5 10.5L0.8 14.2" stroke="#666" stroke-width="1.8" stroke-linecap="round"/></svg><svg style="position:absolute;left:1139px;top:157px" width="19" height="22" viewBox="0 0 19 22"><path d="M9.5 0.5L18.5 5 9.5 9.5 0.5 5z" fill="#666"/><path d="M1 11l8.5 4.5L18 11M1 16.5l8.5 4.5 8.5-4.5" stroke="#666" stroke-width="2.4" fill="none" stroke-linecap="round" stroke-linejoin="round"/></svg><div class="t" style="left:1168px;top:146.50px;font-size:21.5px;line-height:43.0px;color:#646464;font-weight:400;letter-spacing:0.7px;-webkit-text-stroke:0.6px #646464">Meeting Tracker</div><svg style="position:absolute;left:1346px;top:147px" width="15" height="15" viewBox="0 0 15 15"><g stroke="#fff" stroke-width="2.4" stroke-linejoin="round"><path d="M8.5 0.8l5.7 5.7-1.6 1-1.2-.6-2.6 2.6.4 2.2-1.2 1.2-6-6L3.2 5.7l2.2.4L8 3.5l-.6-1.2z" fill="#666"/></g><path d="M8.5 0.8l5.7 5.7-1.6 1-1.2-.6-2.6 2.6.4 2.2-1.2 1.2-6-6L3.2 5.7l2.2.4L8 3.5l-.6-1.2z" fill="#666"/><path d="M4.5 10.5L0.8 14.2" stroke="#666" stroke-width="1.8" stroke-linecap="round"/></svg><svg style="position:absolute;left:1351px;top:155px" width="25" height="25" viewBox="0 0 25 25"><rect x="3" y="6" width="13" height="17" rx="2.5" fill="#666"/><rect x="6.5" y="2.5" width="6" height="5" rx="2" fill="none" stroke="#666" stroke-width="2"/><path d="M1 10v10" stroke="#666" stroke-width="2" stroke-linecap="round"/><circle cx="18" cy="18" r="6" fill="#666" stroke="#fff" stroke-width="1.5"/><path d="M18 15v3l2 1" stroke="#fff" stroke-width="1.5" fill="none" stroke-linecap="round"/></svg><div class="t" style="left:1385px;top:146.50px;font-size:21.5px;line-height:43.0px;color:#646464;font-weight:400;letter-spacing:0px;-webkit-text-stroke:0.6px #646464">By Due</div><svg style="position:absolute;left:1466px;top:147px" width="15" height="15" viewBox="0 0 15 15"><g stroke="#fff" stroke-width="2.4" stroke-linejoin="round"><path d="M8.5 0.8l5.7 5.7-1.6 1-1.2-.6-2.6 2.6.4 2.2-1.2 1.2-6-6L3.2 5.7l2.2.4L8 3.5l-.6-1.2z" fill="#666"/></g><path d="M8.5 0.8l5.7 5.7-1.6 1-1.2-.6-2.6 2.6.4 2.2-1.2 1.2-6-6L3.2 5.7l2.2.4L8 3.5l-.6-1.2z" fill="#666"/><path d="M4.5 10.5L0.8 14.2" stroke="#666" stroke-width="1.8" stroke-linecap="round"/></svg><svg style="position:absolute;left:1476px;top:157px" width="20" height="22" viewBox="0 0 20 22"><circle cx="10" cy="6" r="5.5" fill="#666"/><path d="M0.5 19.5C0.5 15 4 12.5 10 12.5s9.5 2.5 9.5 7a2 2 0 0 1-2 2h-15a2 2 0 0 1-2-2z" fill="#666"/></svg><div class="t" style="left:1505px;top:146.50px;font-size:21.5px;line-height:43.0px;color:#646464;font-weight:400;letter-spacing:0.68px;-webkit-text-stroke:0.6px #646464">My Meetings</div><svg style="position:absolute;left:1654px;top:157px" width="23" height="22" viewBox="0 0 23 22"><rect x="0.5" y="0.5" width="22" height="6" rx="2" fill="#666"/><path d="M2 8h19v10.5a3 3 0 0 1-3 3H5a3 3 0 0 1-3-3z" fill="#666"/><path d="M8.5 12h6" stroke="#fff" stroke-width="2" stroke-linecap="round"/></svg><div class="t" style="left:1686px;top:146.50px;font-size:21.5px;line-height:43.0px;color:#646464;font-weight:400;letter-spacing:0.53px;-webkit-text-stroke:0.6px #646464">Archive</div><div style="position:absolute;left:1784px;top:155px;width:1.5px;height:27px;background:#e4e4e4"></div><svg style="position:absolute;left:1808px;top:159px;" width="19" height="19" viewBox="0 0 24 24" fill="none" stroke="#666" stroke-width="2.2" stroke-linecap="round" stroke-linejoin="round"><path d="M12 3v18M3 12h18"/></svg><div class="t" style="left:1840px;top:146.50px;font-size:21.5px;line-height:43.0px;color:#646464;font-weight:400;letter-spacing:0.35px;-webkit-text-stroke:0.6px #646464">View</div><div style="position:absolute;left:596px;top:214.5px;width:179px;height:41px;background:#efeefd;border:1.5px solid #dcd7f7;border-radius:21px"></div><svg style="position:absolute;left:610px;top:223px;" width="24" height="24" viewBox="0 0 24 24" fill="none" stroke="#5b4ccc" stroke-width="2.2" stroke-linecap="round" stroke-linejoin="round"><path d="M12 2.5L21.5 8 12 13.5 2.5 8z"/><path d="M2.5 12.5L12 18l9.5-5.5M2.5 17L12 22.5 21.5 17"/></svg><div class="t" style="left:643px;top:214.50px;font-size:20.5px;line-height:41.0px;color:#5a4bcb;font-weight:400;letter-spacing:0.73px;-webkit-text-stroke:0.6px #5a4bcb">Ceremonies</div><div style="position:absolute;left:782px;top:214.5px;width:158px;height:41px;background:#efeefd;border:1.5px solid #dcd7f7;border-radius:21px"></div><svg style="position:absolute;left:797px;top:223px;" width="22" height="24" viewBox="0 0 24 24" fill="none" stroke="#5b4ccc" stroke-width="2.2" stroke-linecap="round" stroke-linejoin="round"><circle cx="5.5" cy="5" r="3"/><circle cx="18.5" cy="19" r="3"/><path d="M5.5 8v2.5c0 4 2.5 6 6.5 7.5 1.5.5 2.5.8 3.5 1"/></svg><div class="t" style="left:829px;top:214.50px;font-size:20.5px;line-height:41.0px;color:#5a4bcb;font-weight:400;letter-spacing:0.62px;-webkit-text-stroke:0.6px #5a4bcb">Expanded</div><div style="position:absolute;left:1925px;top:214.5px;width:150px;height:41px;background:#efeefd;border:1.5px solid #dcd7f7;border-radius:21px"></div><svg style="position:absolute;left:1940px;top:224px;" width="22" height="23" viewBox="0 0 24 24" fill="none" stroke="#5b4ccc" stroke-width="2.3" stroke-linecap="round" stroke-linejoin="round"><path d="M12 21V3M4.5 10.5L12 3l7.5 7.5"/></svg><div class="t" style="left:1973px;top:214.50px;font-size:20.5px;line-height:41.0px;color:#5a4bcb;font-weight:400;letter-spacing:0.61px;-webkit-text-stroke:0.6px #5a4bcb">Due date</div><svg style="position:absolute;left:2091px;top:224px;" width="24" height="21" viewBox="0 0 24 24" fill="none" stroke="#6a6a6a" stroke-width="2.3" stroke-linecap="round" stroke-linejoin="round"><path d="M3 6h18M7 12h10M10 18h4"/></svg><svg style="position:absolute;left:2140px;top:223px;" width="24" height="24" viewBox="0 0 24 24" fill="none" stroke="#6a6a6a" stroke-width="2" stroke-linecap="round" stroke-linejoin="round"><circle cx="12" cy="12" r="9.5"/><path d="M7.5 12.5l3 3 6-6.5"/></svg><svg style="position:absolute;left:2188px;top:223px;" width="24" height="24" viewBox="0 0 24 24" fill="none" stroke="#6a6a6a" stroke-width="2" stroke-linecap="round" stroke-linejoin="round"><circle cx="9" cy="8" r="4.5"/><path d="M1.5 21c0-3.5 2.5-6.5 7.5-6.5s7.5 3 7.5 6.5z"/><path d="M14 3.6a4.5 4.5 0 0 1 2 8.3M18.5 14.8c2.5.8 4 3 4 6"/></svg><svg style="position:absolute;left:2235px;top:221px" width="28" height="28" viewBox="0 0 40 40"><defs><clipPath id="av2249"><circle cx="20" cy="20" r="20"/></clipPath><radialGradient id="fg2249" cx=".5" cy=".4" r=".6"><stop offset="0" stop-color="#e2e2e2"/><stop offset=".7" stop-color="#b8b8b8"/><stop offset="1" stop-color="#8a8a8a"/></radialGradient></defs><g clip-path="url(#av2249)"><rect width="40" height="40" fill="#050505"/><path d="M4 40c1-8 7-12 16-12s15 4 16 12z" fill="#d5d5d5"/><rect x="16" y="24" width="8" height="7" fill="#a8a8a8"/><ellipse cx="20.5" cy="17" rx="9" ry="11.5" fill="url(#fg2249)"/><path d="M11.5 13c.5-6 4.5-9.5 9-9.5s8.5 3.5 9 9.5c-2.5-3-5.5-4-9-4s-6.5 1-9 4z" fill="#8a8a8a"/><path d="M15.5 21.5c1.5 2 3 2.8 5 2.8s3.5-.8 5-2.8" stroke="#555" stroke-width="1.2" fill="none"/></g></svg><svg style="position:absolute;left:2286px;top:223px;" width="23" height="23" viewBox="0 0 24 24" fill="none" stroke="#6a6a6a" stroke-width="2.2" stroke-linecap="round" stroke-linejoin="round"><circle cx="10.5" cy="10.5" r="7.5"/><path d="M16 16l5.5 5.5"/></svg><div style="position:absolute;left:2333px;top:221px;width:1.5px;height:27px;background:#e4e4e4"></div><div style="position:absolute;left:2349px;top:214.5px;width:41px;height:41px;background:#fff;border:1.5px solid #e6e6e6;border-radius:10px"></div><svg style="position:absolute;left:2357.5px;top:223px;" width="24" height="24" viewBox="0 0 24 24" fill="none" stroke="#555" stroke-width="2" stroke-linecap="round" stroke-linejoin="round"><circle cx="12" cy="12" r="3.2"/><path d="M12 2.5l2 .4.6 2.3 1.8 1 2.3-.7 1.3 1.5-.7 2.3 1 1.8 2.2.6v2l-2.2.6-1 1.8.7 2.3-1.3 1.5-2.3-.7-1.8 1-.6 2.3-2 .4-2-.4-.6-2.3-1.8-1-2.3.7-1.3-1.5.7-2.3-1-1.8L1.5 13V11l2.2-.6 1-1.8L4 6.3l1.3-1.5 2.3.7 1.8-1L10 2.9z"/></svg><div style="position:absolute;left:2397px;top:214.5px;width:137px;height:41px;background:#5b48df;border-radius:11px"></div><svg style="position:absolute;left:2412px;top:226px;" width="19" height="19" viewBox="0 0 24 24" fill="none" stroke="#fff" stroke-width="2.3" stroke-linecap="round" stroke-linejoin="round"><path d="M12 3v18M3 12h18"/></svg><div class="t" style="left:2443px;top:214.50px;font-size:20.5px;line-height:41.0px;color:#fff;font-weight:700;">Task</div><div style="position:absolute;left:2499px;top:214.5px;width:1.5px;height:41px;background:#4b39c4"></div><svg style="position:absolute;left:2510px;top:232px;" width="13" height="13" viewBox="0 0 24 24" fill="none" stroke="#fff" stroke-width="2.6" stroke-linecap="round" stroke-linejoin="round"><path d="M5 9l7 7 7-7"/></svg><div style="position:absolute;left:0;top:0;width:2547px;height:1524px;overflow:hidden"><div style="position:absolute;left:603px;top:292px;width:458px;height:1300px;background:#f3f3fd;border-radius:20px"></div><div style="position:absolute;left:613px;top:301px;width:184px;height:34.5px;background:#b3bef2;border-radius:8px"></div><div class="t" style="left:621px;top:293.50px;font-size:25px;line-height:50px;color:#2535a8;font-weight:400;">Sprint Planning</div><div class="t" style="left:818px;top:293.50px;font-size:25px;line-height:50px;color:#2a3ab5;font-weight:400;">1</div><div style="position:absolute;left:610px;top:347.5px;width:444.5px;height:504px;background:#fff;border:1.5px solid #e4e4e9;border-radius:18px;box-shadow:0 1px 2px rgba(0,0,0,0.03)"></div><div class="t" style="left:631px;top:355.70px;font-size:25.5px;line-height:51.0px;color:#1f1f1f;font-weight:400;">Sprint Planning | Sprint x</div><svg style="position:absolute;left:633px;top:418.3px;" width="23" height="23" viewBox="0 0 24 24" fill="none" stroke="#b94242" stroke-width="2.3" stroke-linecap="round" stroke-linejoin="round"><circle cx="12" cy="12" r="10"/><path d="M7 12h10"/></svg><div class="t" style="left:662px;top:408.80px;font-size:21px;line-height:42px;color:#b94242;font-weight:400;">3</div><svg style="position:absolute;left:634px;top:468.16px;" width="21" height="21" viewBox="0 0 24 24" fill="none" stroke="#6e6e6e" stroke-width="2.2" stroke-linecap="round" stroke-linejoin="round"><path d="M3 2h18M3 22h18M5.5 2c0 5.5 6.5 7 6.5 10s-6.5 4.5-6.5 10M18.5 2c0 5.5-6.5 7-6.5 10s6.5 4.5 6.5 10"/></svg><div class="t" style="left:673px;top:453.66px;font-size:25px;line-height:50px;color:#222;font-weight:400;">2h</div><div style="position:absolute;left:631px;top:513.52px;width:28px;height:28px;border-radius:50%;background:#b5b5b5"></div><svg style="position:absolute;left:640px;top:521.02px;" width="13" height="13" viewBox="0 0 13 13" fill="none" stroke="#fff" stroke-width="1" stroke-linecap="round" stroke-linejoin="round"><path d="M2 1.5v10l9-5z" fill="#fff" stroke="#fff" stroke-width="1.5"/></svg><div class="t" style="left:673px;top:502.52px;font-size:25px;line-height:50px;color:#9d9d9d;font-weight:400;">Add time</div><svg style="position:absolute;left:633px;top:564.88px;" width="23" height="23" viewBox="0 0 24 24" fill="none" stroke="#6e6e6e" stroke-width="2.1" stroke-linecap="round" stroke-linejoin="round"><circle cx="12" cy="12" r="10.5"/><circle cx="12" cy="10" r="4"/><path d="M5.2 19.8c1.5-3 4-4.8 6.8-4.8s5.3 1.8 6.8 4.8"/></svg><div class="t" style="left:673px;top:551.38px;font-size:25px;line-height:50px;color:#888;font-weight:400;">-</div><svg style="position:absolute;left:634px;top:613.74px" width="21" height="24" viewBox="0 0 21 24"><path d="M1.5 23L3 1.5C8 -.5 12 3.5 20 1.5L17 8.5 20 15C12 17 8 13 3 15z" fill="#3b5bdb" stroke="#3b5bdb" stroke-width="1.5" stroke-linejoin="round"/></svg><div class="t" style="left:673px;top:600.24px;font-size:25px;line-height:50px;color:#222;font-weight:400;">Normal</div><svg style="position:absolute;left:633px;top:662.6px;" width="23" height="23" viewBox="0 0 24 24" fill="none" stroke="#6e6e6e" stroke-width="2.2" stroke-linecap="round" stroke-linejoin="round"><rect x="2" y="4" width="20" height="18" rx="3.5"/><path d="M2 9h20M7 2v3.5M17 2v3.5"/><circle cx="16.5" cy="16.5" r="1.2" fill="currentColor"/></svg><svg style="position:absolute;left:686px;top:663.6px;" width="21" height="21" viewBox="0 0 24 24" fill="none" stroke="#b5b5b5" stroke-width="1.8" stroke-linecap="round" stroke-linejoin="round"><path d="M20 12a8 8 0 0 1-13.5 5.8M4 12A8 8 0 0 1 17.5 6.2"/><path d="M17.5 2v4.2h-4.2M6.5 22v-4.2h4.2"/></svg><div class="t" style="left:715px;top:649.10px;font-size:25px;line-height:50px;color:#9a6a46;font-weight:400;">Today (1d)</div><svg style="position:absolute;left:633px;top:711.46px;" width="23" height="23" viewBox="0 0 24 24" fill="none" stroke="#6e6e6e" stroke-width="2.2" stroke-linecap="round" stroke-linejoin="round"><rect x="2" y="4" width="20" height="18" rx="3.5"/><path d="M2 9h20M7 2v3.5M17 2v3.5"/><circle cx="16.5" cy="16.5" r="1.2" fill="currentColor"/></svg><div class="t" style="left:673px;top:697.96px;font-size:25px;line-height:50px;color:#222;font-weight:400;">4am</div><svg style="position:absolute;left:633px;top:760.32px;" width="23" height="23" viewBox="0 0 24 24" fill="none" stroke="#6e6e6e" stroke-width="2.1" stroke-linecap="round" stroke-linejoin="round"><circle cx="12" cy="7.5" r="5.5"/><path d="M2.5 22c0-4 3-7.5 9.5-7.5s9.5 3.5 9.5 7.5z"/></svg><div class="t" style="left:681px;top:746.82px;font-size:25px;line-height:50px;color:#888;font-weight:400;">-</div><svg style="position:absolute;left:635px;top:815.6800000000001px;" width="18" height="10" viewBox="0 0 18 10" fill="none" stroke="#6e6e6e" stroke-width="1" stroke-linecap="round" stroke-linejoin="round"><path d="M1 1h16L9 9z" fill="#6e6e6e" stroke="#6e6e6e" stroke-width="1.5" stroke-linejoin="round"/></svg><div class="t" style="left:673px;top:795.68px;font-size:25px;line-height:50px;color:#222;font-weight:400;">3 subtasks</div><div style="position:absolute;left:637.5px;top:857.5px;width:417px;height:800px;background:#fff;border:1.5px solid #e4e4e9;border-radius:18px"></div><div style="position:absolute;left:639.0px;top:859px;width:414px;height:231.5px;background:#f8f8f9;border-top-left-radius:17px;border-top-right-radius:17px;border-bottom:1.5px solid #e6e6e9"></div><div class="t" style="left:660.0px;top:872.50px;font-size:21.4px;line-height:42.8px;color:#333;font-weight:400;">The Product Owner proposes a</div><div class="t" style="left:660.0px;top:903.70px;font-size:21.4px;line-height:42.8px;color:#333;font-weight:400;">business objective. The team</div><div class="t" style="left:660.0px;top:934.90px;font-size:21.4px;line-height:42.8px;color:#333;font-weight:400;">discusses and refines this into a</div><div class="t" style="left:660.0px;top:966.10px;font-size:21.4px;line-height:42.8px;color:#333;font-weight:400;">concise Sprint Goal that provides clear</div><div class="t" style="left:660.0px;top:997.30px;font-size:21.4px;line-height:42.8px;color:#333;font-weight:400;">focus and a unified purpose for the</div><div class="t" style="left:660.0px;top:1028.50px;font-size:21.4px;line-height:42.8px;color:#333;font-weight:400;">Sprint.</div><div class="t" style="left:660.0px;top:1100.00px;font-size:25px;line-height:50px;color:#1f1f1f;font-weight:400;">Define the Sprint Goal</div><svg style="position:absolute;left:660.5px;top:1162.0px;" width="23" height="21" viewBox="0 0 24 24" fill="none" stroke="#6e6e6e" stroke-width="2" stroke-linecap="round" stroke-linejoin="round"><path d="M3 5h18M3 12h18M3 19h10"/></svg><svg style="position:absolute;left:700.5px;top:1161.0px;" width="24" height="23" viewBox="0 0 24 24" fill="none" stroke="#e8a72c" stroke-width="2.2" stroke-linecap="round" stroke-linejoin="round"><path d="M12 2.5L1.8 20.5h20.4z"/><path d="M12 9v5"/><circle cx="12" cy="17" r=".6" fill="currentColor"/></svg><div class="t" style="left:728.5px;top:1151.50px;font-size:21px;line-height:42px;color:#e0a030;font-weight:400;">1</div><svg style="position:absolute;left:661.5px;top:1210.86px;" width="21" height="21" viewBox="0 0 24 24" fill="none" stroke="#6e6e6e" stroke-width="2.2" stroke-linecap="round" stroke-linejoin="round"><path d="M3 2h18M3 22h18M5.5 2c0 5.5 6.5 7 6.5 10s-6.5 4.5-6.5 10M18.5 2c0 5.5-6.5 7-6.5 10s6.5 4.5 6.5 10"/></svg><div class="t" style="left:700.5px;top:1196.36px;font-size:25px;line-height:50px;color:#222;font-weight:400;">25m</div><div style="position:absolute;left:658.5px;top:1256.2199999999998px;width:28px;height:28px;border-radius:50%;background:#b5b5b5"></div><svg style="position:absolute;left:667.5px;top:1263.7199999999998px;" width="13" height="13" viewBox="0 0 13 13" fill="none" stroke="#fff" stroke-width="1" stroke-linecap="round" stroke-linejoin="round"><path d="M2 1.5v10l9-5z" fill="#fff" stroke="#fff" stroke-width="1.5"/></svg><div class="t" style="left:700.5px;top:1245.22px;font-size:25px;line-height:50px;color:#9d9d9d;font-weight:400;">Add time</div><svg style="position:absolute;left:660.5px;top:1307.5799999999997px;" width="23" height="23" viewBox="0 0 24 24" fill="none" stroke="#6e6e6e" stroke-width="2.1" stroke-linecap="round" stroke-linejoin="round"><circle cx="12" cy="12" r="10.5"/><circle cx="12" cy="10" r="4"/><path d="M5.2 19.8c1.5-3 4-4.8 6.8-4.8s5.3 1.8 6.8 4.8"/></svg><div class="t" style="left:700.5px;top:1294.08px;font-size:25px;line-height:50px;color:#888;font-weight:400;">-</div><svg style="position:absolute;left:660.5px;top:1355.9399999999996px;" width="23" height="25" viewBox="0 0 24 24" fill="none" stroke="#6e6e6e" stroke-width="2" stroke-linecap="round" stroke-linejoin="round"><path d="M5 22V4c5-2 7 2 14 0l-2 6 2 6c-7 2-9-2-14 0"/></svg><div class="t" style="left:700.5px;top:1342.94px;font-size:25px;line-height:50px;color:#888;font-weight:400;">-</div><svg style="position:absolute;left:660.5px;top:1405.2999999999995px;" width="23" height="23" viewBox="0 0 24 24" fill="none" stroke="#6e6e6e" stroke-width="2.2" stroke-linecap="round" stroke-linejoin="round"><rect x="2" y="4" width="20" height="18" rx="3.5"/><path d="M2 9h20M7 2v3.5M17 2v3.5"/><circle cx="16.5" cy="16.5" r="1.2" fill="currentColor"/></svg><div class="t" style="left:700.5px;top:1391.80px;font-size:25px;line-height:50px;color:#9a6a46;font-weight:400;">Today (1d)</div><svg style="position:absolute;left:660.5px;top:1454.1599999999994px;" width="23" height="23" viewBox="0 0 24 24" fill="none" stroke="#6e6e6e" stroke-width="2.2" stroke-linecap="round" stroke-linejoin="round"><rect x="2" y="4" width="20" height="18" rx="3.5"/><path d="M2 9h20M7 2v3.5M17 2v3.5"/><circle cx="16.5" cy="16.5" r="1.2" fill="currentColor"/></svg><div class="t" style="left:700.5px;top:1440.66px;font-size:25px;line-height:50px;color:#222;font-weight:400;">4am</div><svg style="position:absolute;left:660.5px;top:1503.0199999999993px;" width="23" height="23" viewBox="0 0 24 24" fill="none" stroke="#6e6e6e" stroke-width="2.1" stroke-linecap="round" stroke-linejoin="round"><circle cx="12" cy="7.5" r="5.5"/><path d="M2.5 22c0-4 3-7.5 9.5-7.5s9.5 3.5 9.5 7.5z"/></svg><div class="t" style="left:708.5px;top:1489.52px;font-size:25px;line-height:50px;color:#888;font-weight:400;">-</div><div style="position:absolute;left:1077px;top:292px;width:458px;height:1300px;background:#fffdf4;border-radius:20px"></div><div style="position:absolute;left:1087px;top:301px;width:169px;height:34.5px;background:#f7f0bd;border-radius:8px"></div><div class="t" style="left:1095px;top:293.50px;font-size:25px;line-height:50px;color:#4b4317;font-weight:400;">Daily Standup</div><div class="t" style="left:1277px;top:293.50px;font-size:25px;line-height:50px;color:#7a6a1a;font-weight:400;">1</div><div style="position:absolute;left:1084px;top:347.5px;width:444.5px;height:504px;background:#fff;border:1.5px solid #e4e4e9;border-radius:18px;box-shadow:0 1px 2px rgba(0,0,0,0.03)"></div><div class="t" style="left:1105px;top:355.70px;font-size:25.5px;line-height:51.0px;color:#1f1f1f;font-weight:400;">Standup | Day x Sprint y</div><svg style="position:absolute;left:1107px;top:418.3px;" width="23" height="23" viewBox="0 0 24 24" fill="none" stroke="#b94242" stroke-width="2.3" stroke-linecap="round" stroke-linejoin="round"><circle cx="12" cy="12" r="10"/><path d="M7 12h10"/></svg><div class="t" style="left:1136px;top:408.80px;font-size:21px;line-height:42px;color:#b94242;font-weight:400;">3</div><svg style="position:absolute;left:1108px;top:468.16px;" width="21" height="21" viewBox="0 0 24 24" fill="none" stroke="#6e6e6e" stroke-width="2.2" stroke-linecap="round" stroke-linejoin="round"><path d="M3 2h18M3 22h18M5.5 2c0 5.5 6.5 7 6.5 10s-6.5 4.5-6.5 10M18.5 2c0 5.5-6.5 7-6.5 10s6.5 4.5 6.5 10"/></svg><div class="t" style="left:1147px;top:453.66px;font-size:25px;line-height:50px;color:#222;font-weight:400;">15m</div><div style="position:absolute;left:1105px;top:513.52px;width:28px;height:28px;border-radius:50%;background:#b5b5b5"></div><svg style="position:absolute;left:1114px;top:521.02px;" width="13" height="13" viewBox="0 0 13 13" fill="none" stroke="#fff" stroke-width="1" stroke-linecap="round" stroke-linejoin="round"><path d="M2 1.5v10l9-5z" fill="#fff" stroke="#fff" stroke-width="1.5"/></svg><div class="t" style="left:1147px;top:502.52px;font-size:25px;line-height:50px;color:#9d9d9d;font-weight:400;">Add time</div><svg style="position:absolute;left:1107px;top:564.88px;" width="23" height="23" viewBox="0 0 24 24" fill="none" stroke="#6e6e6e" stroke-width="2.1" stroke-linecap="round" stroke-linejoin="round"><circle cx="12" cy="12" r="10.5"/><circle cx="12" cy="10" r="4"/><path d="M5.2 19.8c1.5-3 4-4.8 6.8-4.8s5.3 1.8 6.8 4.8"/></svg><div class="t" style="left:1147px;top:551.38px;font-size:25px;line-height:50px;color:#888;font-weight:400;">-</div><svg style="position:absolute;left:1108px;top:613.74px" width="21" height="24" viewBox="0 0 21 24"><path d="M1.5 23L3 1.5C8 -.5 12 3.5 20 1.5L17 8.5 20 15C12 17 8 13 3 15z" fill="#3b5bdb" stroke="#3b5bdb" stroke-width="1.5" stroke-linejoin="round"/></svg><div class="t" style="left:1147px;top:600.24px;font-size:25px;line-height:50px;color:#222;font-weight:400;">Normal</div><svg style="position:absolute;left:1107px;top:662.6px;" width="23" height="23" viewBox="0 0 24 24" fill="none" stroke="#6e6e6e" stroke-width="2.2" stroke-linecap="round" stroke-linejoin="round"><rect x="2" y="4" width="20" height="18" rx="3.5"/><path d="M2 9h20M7 2v3.5M17 2v3.5"/><circle cx="16.5" cy="16.5" r="1.2" fill="currentColor"/></svg><svg style="position:absolute;left:1160px;top:663.6px;" width="21" height="21" viewBox="0 0 24 24" fill="none" stroke="#b5b5b5" stroke-width="1.8" stroke-linecap="round" stroke-linejoin="round"><path d="M20 12a8 8 0 0 1-13.5 5.8M4 12A8 8 0 0 1 17.5 6.2"/><path d="M17.5 2v4.2h-4.2M6.5 22v-4.2h4.2"/></svg><div class="t" style="left:1189px;top:649.10px;font-size:25px;line-height:50px;color:#9a6a46;font-weight:400;">Today</div><svg style="position:absolute;left:1107px;top:711.46px;" width="23" height="23" viewBox="0 0 24 24" fill="none" stroke="#6e6e6e" stroke-width="2.2" stroke-linecap="round" stroke-linejoin="round"><rect x="2" y="4" width="20" height="18" rx="3.5"/><path d="M2 9h20M7 2v3.5M17 2v3.5"/><circle cx="16.5" cy="16.5" r="1.2" fill="currentColor"/></svg><div class="t" style="left:1147px;top:697.96px;font-size:25px;line-height:50px;color:#222;font-weight:400;">5:17pm</div><svg style="position:absolute;left:1107px;top:760.32px;" width="23" height="23" viewBox="0 0 24 24" fill="none" stroke="#6e6e6e" stroke-width="2.1" stroke-linecap="round" stroke-linejoin="round"><circle cx="12" cy="7.5" r="5.5"/><path d="M2.5 22c0-4 3-7.5 9.5-7.5s9.5 3.5 9.5 7.5z"/></svg><div class="t" style="left:1155px;top:746.82px;font-size:25px;line-height:50px;color:#888;font-weight:400;">-</div><svg style="position:absolute;left:1109px;top:815.6800000000001px;" width="18" height="10" viewBox="0 0 18 10" fill="none" stroke="#6e6e6e" stroke-width="1" stroke-linecap="round" stroke-linejoin="round"><path d="M1 1h16L9 9z" fill="#6e6e6e" stroke="#6e6e6e" stroke-width="1.5" stroke-linejoin="round"/></svg><div class="t" style="left:1147px;top:795.68px;font-size:25px;line-height:50px;color:#222;font-weight:400;">3 subtasks</div><div style="position:absolute;left:1111.5px;top:857.5px;width:417px;height:800px;background:#fff;border:1.5px solid #e4e4e9;border-radius:18px"></div><div style="position:absolute;left:1113.0px;top:859px;width:414px;height:231.5px;background:#f8f8f9;border-top-left-radius:17px;border-top-right-radius:17px;border-bottom:1.5px solid #e6e6e9"></div><div class="t" style="left:1134.0px;top:872.50px;font-size:21.4px;line-height:42.8px;color:#333;font-weight:400;">Each Developer briefly shares what</div><div class="t" style="left:1134.0px;top:903.70px;font-size:21.4px;line-height:42.8px;color:#333;font-weight:400;">they completed yesterday to help the</div><div class="t" style="left:1134.0px;top:934.90px;font-size:21.4px;line-height:42.8px;color:#333;font-weight:400;">team progress toward the Sprint Goal.</div><div class="t" style="left:1134.0px;top:1100.00px;font-size:25px;line-height:50px;color:#1f1f1f;font-weight:400;letter-spacing:0.55px">Yesterday's Accomplishments</div><svg style="position:absolute;left:1134.5px;top:1162.0px;" width="23" height="21" viewBox="0 0 24 24" fill="none" stroke="#6e6e6e" stroke-width="2" stroke-linecap="round" stroke-linejoin="round"><path d="M3 5h18M3 12h18M3 19h10"/></svg><svg style="position:absolute;left:1174.5px;top:1161.0px;" width="24" height="23" viewBox="0 0 24 24" fill="none" stroke="#e8a72c" stroke-width="2.2" stroke-linecap="round" stroke-linejoin="round"><path d="M12 2.5L1.8 20.5h20.4z"/><path d="M12 9v5"/><circle cx="12" cy="17" r=".6" fill="currentColor"/></svg><div class="t" style="left:1202.5px;top:1151.50px;font-size:21px;line-height:42px;color:#e0a030;font-weight:400;">1</div><svg style="position:absolute;left:1135.5px;top:1210.86px;" width="21" height="21" viewBox="0 0 24 24" fill="none" stroke="#6e6e6e" stroke-width="2.2" stroke-linecap="round" stroke-linejoin="round"><path d="M3 2h18M3 22h18M5.5 2c0 5.5 6.5 7 6.5 10s-6.5 4.5-6.5 10M18.5 2c0 5.5-6.5 7-6.5 10s6.5 4.5 6.5 10"/></svg><div class="t" style="left:1174.5px;top:1196.36px;font-size:25px;line-height:50px;color:#222;font-weight:400;">5m</div><div style="position:absolute;left:1132.5px;top:1256.2199999999998px;width:28px;height:28px;border-radius:50%;background:#b5b5b5"></div><svg style="position:absolute;left:1141.5px;top:1263.7199999999998px;" width="13" height="13" viewBox="0 0 13 13" fill="none" stroke="#fff" stroke-width="1" stroke-linecap="round" stroke-linejoin="round"><path d="M2 1.5v10l9-5z" fill="#fff" stroke="#fff" stroke-width="1.5"/></svg><div class="t" style="left:1174.5px;top:1245.22px;font-size:25px;line-height:50px;color:#9d9d9d;font-weight:400;">Add time</div><svg style="position:absolute;left:1134.5px;top:1307.5799999999997px;" width="23" height="23" viewBox="0 0 24 24" fill="none" stroke="#6e6e6e" stroke-width="2.1" stroke-linecap="round" stroke-linejoin="round"><circle cx="12" cy="12" r="10.5"/><circle cx="12" cy="10" r="4"/><path d="M5.2 19.8c1.5-3 4-4.8 6.8-4.8s5.3 1.8 6.8 4.8"/></svg><div class="t" style="left:1174.5px;top:1294.08px;font-size:25px;line-height:50px;color:#888;font-weight:400;">-</div><svg style="position:absolute;left:1134.5px;top:1355.9399999999996px;" width="23" height="25" viewBox="0 0 24 24" fill="none" stroke="#6e6e6e" stroke-width="2" stroke-linecap="round" stroke-linejoin="round"><path d="M5 22V4c5-2 7 2 14 0l-2 6 2 6c-7 2-9-2-14 0"/></svg><div class="t" style="left:1174.5px;top:1342.94px;font-size:25px;line-height:50px;color:#888;font-weight:400;">-</div><svg style="position:absolute;left:1134.5px;top:1405.2999999999995px;" width="23" height="23" viewBox="0 0 24 24" fill="none" stroke="#6e6e6e" stroke-width="2.2" stroke-linecap="round" stroke-linejoin="round"><rect x="2" y="4" width="20" height="18" rx="3.5"/><path d="M2 9h20M7 2v3.5M17 2v3.5"/><circle cx="16.5" cy="16.5" r="1.2" fill="currentColor"/></svg><div class="t" style="left:1174.5px;top:1391.80px;font-size:25px;line-height:50px;color:#9a6a46;font-weight:400;">Today</div><svg style="position:absolute;left:1134.5px;top:1454.1599999999994px;" width="23" height="23" viewBox="0 0 24 24" fill="none" stroke="#6e6e6e" stroke-width="2.2" stroke-linecap="round" stroke-linejoin="round"><rect x="2" y="4" width="20" height="18" rx="3.5"/><path d="M2 9h20M7 2v3.5M17 2v3.5"/><circle cx="16.5" cy="16.5" r="1.2" fill="currentColor"/></svg><div class="t" style="left:1174.5px;top:1440.66px;font-size:25px;line-height:50px;color:#222;font-weight:400;">5:17pm</div><svg style="position:absolute;left:1134.5px;top:1503.0199999999993px;" width="23" height="23" viewBox="0 0 24 24" fill="none" stroke="#6e6e6e" stroke-width="2.1" stroke-linecap="round" stroke-linejoin="round"><circle cx="12" cy="7.5" r="5.5"/><path d="M2.5 22c0-4 3-7.5 9.5-7.5s9.5 3.5 9.5 7.5z"/></svg><div class="t" style="left:1182.5px;top:1489.52px;font-size:25px;line-height:50px;color:#888;font-weight:400;">-</div><div style="position:absolute;left:1550px;top:292px;width:458px;height:1300px;background:#fdf6f3;border-radius:20px"></div><div style="position:absolute;left:1560px;top:301px;width:166.5px;height:34.5px;background:#f3c6b7;border-radius:8px"></div><div class="t" style="left:1568px;top:293.50px;font-size:25px;line-height:50px;color:#7a3a1e;font-weight:400;">Sprint Review</div><div class="t" style="left:1747.5px;top:293.50px;font-size:25px;line-height:50px;color:#c25a2c;font-weight:400;">1</div><div style="position:absolute;left:1557px;top:347.5px;width:444.5px;height:504px;background:#fff;border:1.5px solid #e4e4e9;border-radius:18px;box-shadow:0 1px 2px rgba(0,0,0,0.03)"></div><div class="t" style="left:1578px;top:355.70px;font-size:25.5px;line-height:51.0px;color:#1f1f1f;font-weight:400;">Sprint Review | Sprint x</div><svg style="position:absolute;left:1580px;top:418.3px;" width="23" height="23" viewBox="0 0 24 24" fill="none" stroke="#b94242" stroke-width="2.3" stroke-linecap="round" stroke-linejoin="round"><circle cx="12" cy="12" r="10"/><path d="M7 12h10"/></svg><div class="t" style="left:1609px;top:408.80px;font-size:21px;line-height:42px;color:#b94242;font-weight:400;">3</div><svg style="position:absolute;left:1581px;top:468.16px;" width="21" height="21" viewBox="0 0 24 24" fill="none" stroke="#6e6e6e" stroke-width="2.2" stroke-linecap="round" stroke-linejoin="round"><path d="M3 2h18M3 22h18M5.5 2c0 5.5 6.5 7 6.5 10s-6.5 4.5-6.5 10M18.5 2c0 5.5-6.5 7-6.5 10s6.5 4.5 6.5 10"/></svg><div class="t" style="left:1620px;top:453.66px;font-size:25px;line-height:50px;color:#222;font-weight:400;">1h 30m</div><div style="position:absolute;left:1578px;top:513.52px;width:28px;height:28px;border-radius:50%;background:#b5b5b5"></div><svg style="position:absolute;left:1587px;top:521.02px;" width="13" height="13" viewBox="0 0 13 13" fill="none" stroke="#fff" stroke-width="1" stroke-linecap="round" stroke-linejoin="round"><path d="M2 1.5v10l9-5z" fill="#fff" stroke="#fff" stroke-width="1.5"/></svg><div class="t" style="left:1620px;top:502.52px;font-size:25px;line-height:50px;color:#9d9d9d;font-weight:400;">Add time</div><svg style="position:absolute;left:1580px;top:564.88px;" width="23" height="23" viewBox="0 0 24 24" fill="none" stroke="#6e6e6e" stroke-width="2.1" stroke-linecap="round" stroke-linejoin="round"><circle cx="12" cy="12" r="10.5"/><circle cx="12" cy="10" r="4"/><path d="M5.2 19.8c1.5-3 4-4.8 6.8-4.8s5.3 1.8 6.8 4.8"/></svg><div class="t" style="left:1620px;top:551.38px;font-size:25px;line-height:50px;color:#888;font-weight:400;">-</div><svg style="position:absolute;left:1581px;top:613.74px" width="21" height="24" viewBox="0 0 21 24"><path d="M1.5 23L3 1.5C8 -.5 12 3.5 20 1.5L17 8.5 20 15C12 17 8 13 3 15z" fill="#3b5bdb" stroke="#3b5bdb" stroke-width="1.5" stroke-linejoin="round"/></svg><div class="t" style="left:1620px;top:600.24px;font-size:25px;line-height:50px;color:#222;font-weight:400;">Normal</div><svg style="position:absolute;left:1580px;top:662.6px;" width="23" height="23" viewBox="0 0 24 24" fill="none" stroke="#6e6e6e" stroke-width="2.2" stroke-linecap="round" stroke-linejoin="round"><rect x="2" y="4" width="20" height="18" rx="3.5"/><path d="M2 9h20M7 2v3.5M17 2v3.5"/><circle cx="16.5" cy="16.5" r="1.2" fill="currentColor"/></svg><svg style="position:absolute;left:1633px;top:663.6px;" width="21" height="21" viewBox="0 0 24 24" fill="none" stroke="#b5b5b5" stroke-width="1.8" stroke-linecap="round" stroke-linejoin="round"><path d="M20 12a8 8 0 0 1-13.5 5.8M4 12A8 8 0 0 1 17.5 6.2"/><path d="M17.5 2v4.2h-4.2M6.5 22v-4.2h4.2"/></svg><div class="t" style="left:1662px;top:649.10px;font-size:25px;line-height:50px;color:#c23a3a;font-weight:400;">2 days ago</div><svg style="position:absolute;left:1580px;top:711.46px;" width="23" height="23" viewBox="0 0 24 24" fill="none" stroke="#6e6e6e" stroke-width="2.2" stroke-linecap="round" stroke-linejoin="round"><rect x="2" y="4" width="20" height="18" rx="3.5"/><path d="M2 9h20M7 2v3.5M17 2v3.5"/><circle cx="16.5" cy="16.5" r="1.2" fill="currentColor"/></svg><div class="t" style="left:1620px;top:697.96px;font-size:25px;line-height:50px;color:#222;font-weight:400;">Oct 29</div><svg style="position:absolute;left:1580px;top:760.32px;" width="23" height="23" viewBox="0 0 24 24" fill="none" stroke="#6e6e6e" stroke-width="2.1" stroke-linecap="round" stroke-linejoin="round"><circle cx="12" cy="7.5" r="5.5"/><path d="M2.5 22c0-4 3-7.5 9.5-7.5s9.5 3.5 9.5 7.5z"/></svg><div class="t" style="left:1628px;top:746.82px;font-size:25px;line-height:50px;color:#888;font-weight:400;">-</div><svg style="position:absolute;left:1582px;top:815.6800000000001px;" width="18" height="10" viewBox="0 0 18 10" fill="none" stroke="#6e6e6e" stroke-width="1" stroke-linecap="round" stroke-linejoin="round"><path d="M1 1h16L9 9z" fill="#6e6e6e" stroke="#6e6e6e" stroke-width="1.5" stroke-linejoin="round"/></svg><div class="t" style="left:1620px;top:795.68px;font-size:25px;line-height:50px;color:#222;font-weight:400;">3 subtasks</div><div style="position:absolute;left:1584.5px;top:857.5px;width:417px;height:800px;background:#fff;border:1.5px solid #e4e4e9;border-radius:18px"></div><div style="position:absolute;left:1586.0px;top:859px;width:414px;height:231.5px;background:#f8f8f9;border-top-left-radius:17px;border-top-right-radius:17px;border-bottom:1.5px solid #e6e6e9"></div><div class="t" style="left:1607.0px;top:872.50px;font-size:21.4px;line-height:42.8px;color:#333;font-weight:400;">The Product Owner explains which</div><div class="t" style="left:1607.0px;top:903.70px;font-size:21.4px;line-height:42.8px;color:#333;font-weight:400;">Product Backlog items have been</div><div class="t" style="left:1607.0px;top:934.90px;font-size:21.4px;line-height:42.8px;color:#333;font-weight:400;">completed ("Done") and which have</div><div class="t" style="left:1607.0px;top:966.10px;font-size:21.4px;line-height:42.8px;color:#333;font-weight:400;">not. The team recaps the Sprint Goal</div><div class="t" style="left:1607.0px;top:997.30px;font-size:21.4px;line-height:42.8px;color:#333;font-weight:400;">and the overall progress.</div><div class="t" style="left:1607.0px;top:1100.00px;font-size:25px;line-height:50px;color:#1f1f1f;font-weight:400;">Recap Sprint Goal &amp; Work Done</div><svg style="position:absolute;left:1607.5px;top:1162.0px;" width="23" height="21" viewBox="0 0 24 24" fill="none" stroke="#6e6e6e" stroke-width="2" stroke-linecap="round" stroke-linejoin="round"><path d="M3 5h18M3 12h18M3 19h10"/></svg><svg style="position:absolute;left:1647.5px;top:1161.0px;" width="24" height="23" viewBox="0 0 24 24" fill="none" stroke="#e8a72c" stroke-width="2.2" stroke-linecap="round" stroke-linejoin="round"><path d="M12 2.5L1.8 20.5h20.4z"/><path d="M12 9v5"/><circle cx="12" cy="17" r=".6" fill="currentColor"/></svg><div class="t" style="left:1675.5px;top:1151.50px;font-size:21px;line-height:42px;color:#e0a030;font-weight:400;">1</div><svg style="position:absolute;left:1608.5px;top:1210.86px;" width="21" height="21" viewBox="0 0 24 24" fill="none" stroke="#6e6e6e" stroke-width="2.2" stroke-linecap="round" stroke-linejoin="round"><path d="M3 2h18M3 22h18M5.5 2c0 5.5 6.5 7 6.5 10s-6.5 4.5-6.5 10M18.5 2c0 5.5-6.5 7-6.5 10s6.5 4.5 6.5 10"/></svg><div class="t" style="left:1647.5px;top:1196.36px;font-size:25px;line-height:50px;color:#222;font-weight:400;">10m</div><div style="position:absolute;left:1605.5px;top:1256.2199999999998px;width:28px;height:28px;border-radius:50%;background:#b5b5b5"></div><svg style="position:absolute;left:1614.5px;top:1263.7199999999998px;" width="13" height="13" viewBox="0 0 13 13" fill="none" stroke="#fff" stroke-width="1" stroke-linecap="round" stroke-linejoin="round"><path d="M2 1.5v10l9-5z" fill="#fff" stroke="#fff" stroke-width="1.5"/></svg><div class="t" style="left:1647.5px;top:1245.22px;font-size:25px;line-height:50px;color:#9d9d9d;font-weight:400;">Add time</div><svg style="position:absolute;left:1607.5px;top:1307.5799999999997px;" width="23" height="23" viewBox="0 0 24 24" fill="none" stroke="#6e6e6e" stroke-width="2.1" stroke-linecap="round" stroke-linejoin="round"><circle cx="12" cy="12" r="10.5"/><circle cx="12" cy="10" r="4"/><path d="M5.2 19.8c1.5-3 4-4.8 6.8-4.8s5.3 1.8 6.8 4.8"/></svg><div class="t" style="left:1647.5px;top:1294.08px;font-size:25px;line-height:50px;color:#888;font-weight:400;">-</div><svg style="position:absolute;left:1607.5px;top:1355.9399999999996px;" width="23" height="25" viewBox="0 0 24 24" fill="none" stroke="#6e6e6e" stroke-width="2" stroke-linecap="round" stroke-linejoin="round"><path d="M5 22V4c5-2 7 2 14 0l-2 6 2 6c-7 2-9-2-14 0"/></svg><div class="t" style="left:1647.5px;top:1342.94px;font-size:25px;line-height:50px;color:#888;font-weight:400;">-</div><svg style="position:absolute;left:1607.5px;top:1405.2999999999995px;" width="23" height="23" viewBox="0 0 24 24" fill="none" stroke="#6e6e6e" stroke-width="2.2" stroke-linecap="round" stroke-linejoin="round"><rect x="2" y="4" width="20" height="18" rx="3.5"/><path d="M2 9h20M7 2v3.5M17 2v3.5"/><circle cx="16.5" cy="16.5" r="1.2" fill="currentColor"/></svg><div class="t" style="left:1647.5px;top:1391.80px;font-size:25px;line-height:50px;color:#c23a3a;font-weight:400;">2 days ago</div><svg style="position:absolute;left:1607.5px;top:1454.1599999999994px;" width="23" height="23" viewBox="0 0 24 24" fill="none" stroke="#6e6e6e" stroke-width="2.2" stroke-linecap="round" stroke-linejoin="round"><rect x="2" y="4" width="20" height="18" rx="3.5"/><path d="M2 9h20M7 2v3.5M17 2v3.5"/><circle cx="16.5" cy="16.5" r="1.2" fill="currentColor"/></svg><div class="t" style="left:1647.5px;top:1440.66px;font-size:25px;line-height:50px;color:#222;font-weight:400;">Oct 29</div><svg style="position:absolute;left:1607.5px;top:1503.0199999999993px;" width="23" height="23" viewBox="0 0 24 24" fill="none" stroke="#6e6e6e" stroke-width="2.1" stroke-linecap="round" stroke-linejoin="round"><circle cx="12" cy="7.5" r="5.5"/><path d="M2.5 22c0-4 3-7.5 9.5-7.5s9.5 3.5 9.5 7.5z"/></svg><div class="t" style="left:1655.5px;top:1489.52px;font-size:25px;line-height:50px;color:#888;font-weight:400;">-</div><div style="position:absolute;left:2024px;top:292px;width:458px;height:1300px;background:#f6f8fd;border-radius:20px"></div><div style="position:absolute;left:2034px;top:301px;width:238px;height:34.5px;background:#d5e1fa;border-radius:8px"></div><div class="t" style="left:2042px;top:293.50px;font-size:25px;line-height:50px;color:#4a5d86;font-weight:400;">Sprint Retrospective</div><div class="t" style="left:2293px;top:293.50px;font-size:25px;line-height:50px;color:#6f8fd0;font-weight:400;">1</div><div style="position:absolute;left:2031px;top:347.5px;width:444.5px;height:504px;background:#fff;border:1.5px solid #e4e4e9;border-radius:18px;box-shadow:0 1px 2px rgba(0,0,0,0.03)"></div><div class="t" style="left:2052px;top:355.70px;font-size:25.5px;line-height:51.0px;color:#1f1f1f;font-weight:400;">Sprint Retrospective | Sprint x</div><svg style="position:absolute;left:2054px;top:418.3px;" width="23" height="23" viewBox="0 0 24 24" fill="none" stroke="#b94242" stroke-width="2.3" stroke-linecap="round" stroke-linejoin="round"><circle cx="12" cy="12" r="10"/><path d="M7 12h10"/></svg><div class="t" style="left:2083px;top:408.80px;font-size:21px;line-height:42px;color:#b94242;font-weight:400;">4</div><svg style="position:absolute;left:2055px;top:468.16px;" width="21" height="21" viewBox="0 0 24 24" fill="none" stroke="#6e6e6e" stroke-width="2.2" stroke-linecap="round" stroke-linejoin="round"><path d="M3 2h18M3 22h18M5.5 2c0 5.5 6.5 7 6.5 10s-6.5 4.5-6.5 10M18.5 2c0 5.5-6.5 7-6.5 10s6.5 4.5 6.5 10"/></svg><div class="t" style="left:2094px;top:453.66px;font-size:25px;line-height:50px;color:#222;font-weight:400;">1h 30m</div><div style="position:absolute;left:2052px;top:513.52px;width:28px;height:28px;border-radius:50%;background:#b5b5b5"></div><svg style="position:absolute;left:2061px;top:521.02px;" width="13" height="13" viewBox="0 0 13 13" fill="none" stroke="#fff" stroke-width="1" stroke-linecap="round" stroke-linejoin="round"><path d="M2 1.5v10l9-5z" fill="#fff" stroke="#fff" stroke-width="1.5"/></svg><div class="t" style="left:2094px;top:502.52px;font-size:25px;line-height:50px;color:#9d9d9d;font-weight:400;">Add time</div><svg style="position:absolute;left:2054px;top:564.88px;" width="23" height="23" viewBox="0 0 24 24" fill="none" stroke="#6e6e6e" stroke-width="2.1" stroke-linecap="round" stroke-linejoin="round"><circle cx="12" cy="12" r="10.5"/><circle cx="12" cy="10" r="4"/><path d="M5.2 19.8c1.5-3 4-4.8 6.8-4.8s5.3 1.8 6.8 4.8"/></svg><div class="t" style="left:2094px;top:551.38px;font-size:25px;line-height:50px;color:#888;font-weight:400;">-</div><svg style="position:absolute;left:2055px;top:613.74px" width="21" height="24" viewBox="0 0 21 24"><path d="M1.5 23L3 1.5C8 -.5 12 3.5 20 1.5L17 8.5 20 15C12 17 8 13 3 15z" fill="#3b5bdb" stroke="#3b5bdb" stroke-width="1.5" stroke-linejoin="round"/></svg><div class="t" style="left:2094px;top:600.24px;font-size:25px;line-height:50px;color:#222;font-weight:400;">Normal</div><svg style="position:absolute;left:2054px;top:662.6px;" width="23" height="23" viewBox="0 0 24 24" fill="none" stroke="#6e6e6e" stroke-width="2.2" stroke-linecap="round" stroke-linejoin="round"><rect x="2" y="4" width="20" height="18" rx="3.5"/><path d="M2 9h20M7 2v3.5M17 2v3.5"/><circle cx="16.5" cy="16.5" r="1.2" fill="currentColor"/></svg><svg style="position:absolute;left:2107px;top:663.6px;" width="21" height="21" viewBox="0 0 24 24" fill="none" stroke="#b5b5b5" stroke-width="1.8" stroke-linecap="round" stroke-linejoin="round"><path d="M20 12a8 8 0 0 1-13.5 5.8M4 12A8 8 0 0 1 17.5 6.2"/><path d="M17.5 2v4.2h-4.2M6.5 22v-4.2h4.2"/></svg><div class="t" style="left:2136px;top:649.10px;font-size:25px;line-height:50px;color:#c23a3a;font-weight:400;">Yesterday</div><svg style="position:absolute;left:2054px;top:711.46px;" width="23" height="23" viewBox="0 0 24 24" fill="none" stroke="#6e6e6e" stroke-width="2.2" stroke-linecap="round" stroke-linejoin="round"><rect x="2" y="4" width="20" height="18" rx="3.5"/><path d="M2 9h20M7 2v3.5M17 2v3.5"/><circle cx="16.5" cy="16.5" r="1.2" fill="currentColor"/></svg><div class="t" style="left:2094px;top:697.96px;font-size:25px;line-height:50px;color:#222;font-weight:400;">Oct 29</div><svg style="position:absolute;left:2054px;top:760.32px;" width="23" height="23" viewBox="0 0 24 24" fill="none" stroke="#6e6e6e" stroke-width="2.1" stroke-linecap="round" stroke-linejoin="round"><circle cx="12" cy="7.5" r="5.5"/><path d="M2.5 22c0-4 3-7.5 9.5-7.5s9.5 3.5 9.5 7.5z"/></svg><div class="t" style="left:2102px;top:746.82px;font-size:25px;line-height:50px;color:#888;font-weight:400;">-</div><svg style="position:absolute;left:2056px;top:815.6800000000001px;" width="18" height="10" viewBox="0 0 18 10" fill="none" stroke="#6e6e6e" stroke-width="1" stroke-linecap="round" stroke-linejoin="round"><path d="M1 1h16L9 9z" fill="#6e6e6e" stroke="#6e6e6e" stroke-width="1.5" stroke-linejoin="round"/></svg><div class="t" style="left:2094px;top:795.68px;font-size:25px;line-height:50px;color:#222;font-weight:400;">4 subtasks</div><div style="position:absolute;left:2058.5px;top:857.5px;width:417px;height:800px;background:#fff;border:1.5px solid #e4e4e9;border-radius:18px"></div><div style="position:absolute;left:2060.0px;top:859px;width:414px;height:231.5px;background:#f8f8f9;border-top-left-radius:17px;border-top-right-radius:17px;border-bottom:1.5px solid #e6e6e9"></div><div class="t" style="left:2081.0px;top:872.50px;font-size:21.4px;line-height:42.8px;color:#333;font-weight:400;">Kick off the meeting, remind the team</div><div class="t" style="left:2081.0px;top:903.70px;font-size:21.4px;line-height:42.8px;color:#333;font-weight:400;">of the goal (continuous improvement),</div><div class="t" style="left:2081.0px;top:934.90px;font-size:21.4px;line-height:42.8px;color:#333;font-weight:400;">and do a quick check-in round (e.g.,</div><div class="t" style="left:2081.0px;top:966.10px;font-size:21.4px;line-height:42.8px;color:#333;font-weight:400;">“Describe this sprint in one word”).</div><div class="t" style="left:2081.0px;top:1100.00px;font-size:25px;line-height:50px;color:#1f1f1f;font-weight:400;">Welcome &amp; Check-In</div><svg style="position:absolute;left:2081.5px;top:1162.0px;" width="23" height="21" viewBox="0 0 24 24" fill="none" stroke="#6e6e6e" stroke-width="2" stroke-linecap="round" stroke-linejoin="round"><path d="M3 5h18M3 12h18M3 19h10"/></svg><svg style="position:absolute;left:2121.5px;top:1161.0px;" width="24" height="23" viewBox="0 0 24 24" fill="none" stroke="#e8a72c" stroke-width="2.2" stroke-linecap="round" stroke-linejoin="round"><path d="M12 2.5L1.8 20.5h20.4z"/><path d="M12 9v5"/><circle cx="12" cy="17" r=".6" fill="currentColor"/></svg><div class="t" style="left:2149.5px;top:1151.50px;font-size:21px;line-height:42px;color:#e0a030;font-weight:400;">1</div><svg style="position:absolute;left:2082.5px;top:1210.86px;" width="21" height="21" viewBox="0 0 24 24" fill="none" stroke="#6e6e6e" stroke-width="2.2" stroke-linecap="round" stroke-linejoin="round"><path d="M3 2h18M3 22h18M5.5 2c0 5.5 6.5 7 6.5 10s-6.5 4.5-6.5 10M18.5 2c0 5.5-6.5 7-6.5 10s6.5 4.5 6.5 10"/></svg><div class="t" style="left:2121.5px;top:1196.36px;font-size:25px;line-height:50px;color:#222;font-weight:400;">5m</div><div style="position:absolute;left:2079.5px;top:1256.2199999999998px;width:28px;height:28px;border-radius:50%;background:#b5b5b5"></div><svg style="position:absolute;left:2088.5px;top:1263.7199999999998px;" width="13" height="13" viewBox="0 0 13 13" fill="none" stroke="#fff" stroke-width="1" stroke-linecap="round" stroke-linejoin="round"><path d="M2 1.5v10l9-5z" fill="#fff" stroke="#fff" stroke-width="1.5"/></svg><div class="t" style="left:2121.5px;top:1245.22px;font-size:25px;line-height:50px;color:#9d9d9d;font-weight:400;">Add time</div><svg style="position:absolute;left:2081.5px;top:1307.5799999999997px;" width="23" height="23" viewBox="0 0 24 24" fill="none" stroke="#6e6e6e" stroke-width="2.1" stroke-linecap="round" stroke-linejoin="round"><circle cx="12" cy="12" r="10.5"/><circle cx="12" cy="10" r="4"/><path d="M5.2 19.8c1.5-3 4-4.8 6.8-4.8s5.3 1.8 6.8 4.8"/></svg><div class="t" style="left:2121.5px;top:1294.08px;font-size:25px;line-height:50px;color:#888;font-weight:400;">-</div><svg style="position:absolute;left:2081.5px;top:1355.9399999999996px;" width="23" height="25" viewBox="0 0 24 24" fill="none" stroke="#6e6e6e" stroke-width="2" stroke-linecap="round" stroke-linejoin="round"><path d="M5 22V4c5-2 7 2 14 0l-2 6 2 6c-7 2-9-2-14 0"/></svg><div class="t" style="left:2121.5px;top:1342.94px;font-size:25px;line-height:50px;color:#888;font-weight:400;">-</div><svg style="position:absolute;left:2081.5px;top:1405.2999999999995px;" width="23" height="23" viewBox="0 0 24 24" fill="none" stroke="#6e6e6e" stroke-width="2.2" stroke-linecap="round" stroke-linejoin="round"><rect x="2" y="4" width="20" height="18" rx="3.5"/><path d="M2 9h20M7 2v3.5M17 2v3.5"/><circle cx="16.5" cy="16.5" r="1.2" fill="currentColor"/></svg><div class="t" style="left:2121.5px;top:1391.80px;font-size:25px;line-height:50px;color:#c23a3a;font-weight:400;">Yesterday</div><svg style="position:absolute;left:2081.5px;top:1454.1599999999994px;" width="23" height="23" viewBox="0 0 24 24" fill="none" stroke="#6e6e6e" stroke-width="2.2" stroke-linecap="round" stroke-linejoin="round"><rect x="2" y="4" width="20" height="18" rx="3.5"/><path d="M2 9h20M7 2v3.5M17 2v3.5"/><circle cx="16.5" cy="16.5" r="1.2" fill="currentColor"/></svg><div class="t" style="left:2121.5px;top:1440.66px;font-size:25px;line-height:50px;color:#222;font-weight:400;">Oct 29</div><svg style="position:absolute;left:2081.5px;top:1503.0199999999993px;" width="23" height="23" viewBox="0 0 24 24" fill="none" stroke="#6e6e6e" stroke-width="2.1" stroke-linecap="round" stroke-linejoin="round"><circle cx="12" cy="7.5" r="5.5"/><path d="M2.5 22c0-4 3-7.5 9.5-7.5s9.5 3.5 9.5 7.5z"/></svg><div class="t" style="left:2129.5px;top:1489.52px;font-size:25px;line-height:50px;color:#888;font-weight:400;">-</div><div style="position:absolute;left:2498px;top:291px;width:60px;height:183px;background:#f3f3f3;border-radius:14px"></div><svg style="position:absolute;left:2514px;top:306px;" width="22" height="22" viewBox="0 0 24 24" fill="none" stroke="#444" stroke-width="2" stroke-linecap="round" stroke-linejoin="round"><rect x="5" y="3" width="14" height="18" rx="3"/><path d="M5 12h14M11 12l1.5 2 1.5-2"/></svg><div class="t" style="left:2505px;top:351.00px;font-size:25px;line-height:50px;color:#3a3a3a;font-weight:400;transform:rotate(90deg);transform-origin:center;width:80px;text-align:center;left:2486px">Empty</div><div class="t" style="left:2505px;top:424.00px;font-size:24px;line-height:48px;color:#555;font-weight:400;transform:rotate(90deg);width:36px;text-align:center;left:2507.5px">0</div></div></body></html>
